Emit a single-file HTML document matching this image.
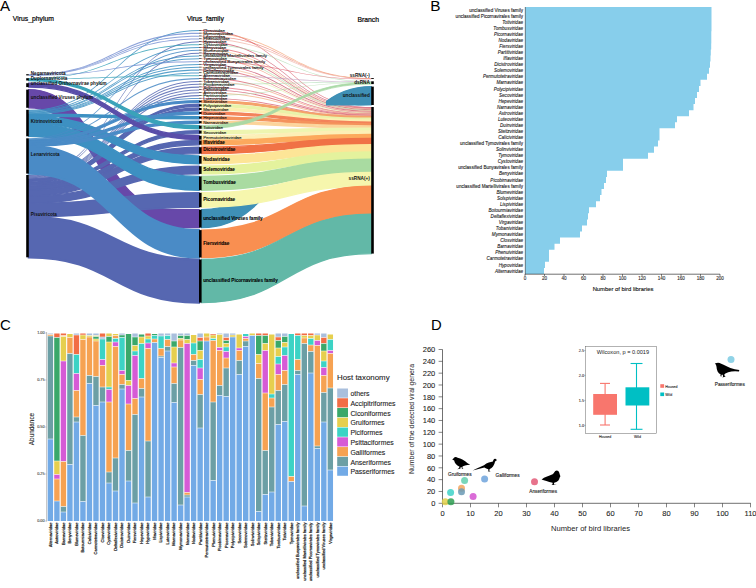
<!DOCTYPE html>
<html><head><meta charset="utf-8"><style>
html,body{margin:0;padding:0;background:#fff;width:756px;height:588px;overflow:hidden;}
svg{display:block;font-family:"Liberation Sans",sans-serif;}
</style></head><body>
<svg width="756" height="588" viewBox="0 0 756 588">
<rect width="756" height="588" fill="#fff"/>
<g id="panelA">
<clipPath id="clipU"><rect x="0" y="200" width="264" height="100"/><rect x="326" y="0" width="100" height="105.6"/></clipPath>
<path d="M201.6 30 C286.4 30 286.4 107 371.2 107 L371.2 107.87 C286.4 107.87 286.4 30.9 201.6 30.9 Z" fill="#d8485a" fill-opacity="0.68"/>
<path d="M201.6 32.83 C286.4 32.83 286.4 78.1 371.2 78.1 L371.2 78.62 C286.4 78.62 286.4 33.73 201.6 33.73 Z" fill="#f4a070" fill-opacity="0.68"/>
<path d="M201.6 35.66 C286.4 35.66 286.4 78.32 371.2 78.32 L371.2 78.85 C286.4 78.85 286.4 36.56 201.6 36.56 Z" fill="#e86a5a" fill-opacity="0.68"/>
<path d="M201.6 38.49 C286.4 38.49 286.4 78.55 371.2 78.55 L371.2 79.07 C286.4 79.07 286.4 39.39 201.6 39.39 Z" fill="#f0b0a0" fill-opacity="0.68"/>
<path d="M201.6 41.32 C286.4 41.32 286.4 107.57 371.2 107.57 L371.2 108.44 C286.4 108.44 286.4 42.22 201.6 42.22 Z" fill="#c83a55" fill-opacity="0.68"/>
<path d="M201.6 44.15 C286.4 44.15 286.4 81.3 371.2 81.3 L371.2 81.9 C286.4 81.9 286.4 45.05 201.6 45.05 Z" fill="#a8d8a8" fill-opacity="0.68"/>
<path d="M201.6 46.98 C286.4 46.98 286.4 108.14 371.2 108.14 L371.2 109.01 C286.4 109.01 286.4 47.88 201.6 47.88 Z" fill="#e05a60" fill-opacity="0.68"/>
<path d="M201.6 49.81 C286.4 49.81 286.4 108.71 371.2 108.71 L371.2 109.58 C286.4 109.58 286.4 50.71 201.6 50.71 Z" fill="#f8c890" fill-opacity="0.68"/>
<path d="M201.6 52.64 C286.4 52.64 286.4 109.28 371.2 109.28 L371.2 110.15 C286.4 110.15 286.4 53.54 201.6 53.54 Z" fill="#d04858" fill-opacity="0.68"/>
<path d="M201.6 55.47 C286.4 55.47 286.4 109.85 371.2 109.85 L371.2 110.72 C286.4 110.72 286.4 56.37 201.6 56.37 Z" fill="#b8e0b0" fill-opacity="0.68"/>
<path d="M201.6 58.3 C286.4 58.3 286.4 110.42 371.2 110.42 L371.2 111.29 C286.4 111.29 286.4 59.2 201.6 59.2 Z" fill="#f09070" fill-opacity="0.68"/>
<path d="M201.6 61.13 C286.4 61.13 286.4 78.77 371.2 78.77 L371.2 79.3 C286.4 79.3 286.4 62.03 201.6 62.03 Z" fill="#d84c5c" fill-opacity="0.68"/>
<path d="M201.6 63.96 C286.4 63.96 286.4 110.99 371.2 110.99 L371.2 111.86 C286.4 111.86 286.4 64.86 201.6 64.86 Z" fill="#c43a58" fill-opacity="0.68"/>
<path d="M201.6 66.79 C286.4 66.79 286.4 111.56 371.2 111.56 L371.2 112.43 C286.4 112.43 286.4 67.69 201.6 67.69 Z" fill="#f4b890" fill-opacity="0.68"/>
<path d="M201.6 69.62 C286.4 69.62 286.4 112.13 371.2 112.13 L371.2 113 C286.4 113 286.4 70.52 201.6 70.52 Z" fill="#d85060" fill-opacity="0.68"/>
<path d="M201.6 72.45 C286.4 72.45 286.4 112.7 371.2 112.7 L371.2 113.57 C286.4 113.57 286.4 73.35 201.6 73.35 Z" fill="#e8f0b0" fill-opacity="0.68"/>
<path d="M201.6 75.28 C286.4 75.28 286.4 81.6 371.2 81.6 L371.2 82.2 C286.4 82.2 286.4 76.18 201.6 76.18 Z" fill="#c0a0c0" fill-opacity="0.68"/>
<path d="M201.6 78.11 C286.4 78.11 286.4 113.27 371.2 113.27 L371.2 114.15 C286.4 114.15 286.4 79.01 201.6 79.01 Z" fill="#d44a5a" fill-opacity="0.68"/>
<path d="M201.6 80.94 C286.4 80.94 286.4 113.85 371.2 113.85 L371.2 114.72 C286.4 114.72 286.4 81.84 201.6 81.84 Z" fill="#f0a080" fill-opacity="0.68"/>
<path d="M201.6 83.77 C286.4 83.77 286.4 81.9 371.2 81.9 L371.2 82.5 C286.4 82.5 286.4 84.67 201.6 84.67 Z" fill="#a0d4a8" fill-opacity="0.68"/>
<path d="M201.6 86.6 C286.4 86.6 286.4 114.42 371.2 114.42 L371.2 115.29 C286.4 115.29 286.4 87.5 201.6 87.5 Z" fill="#e06070" fill-opacity="0.68"/>
<path d="M201.6 89.43 C286.4 89.43 286.4 114.99 371.2 114.99 L371.2 115.86 C286.4 115.86 286.4 90.33 201.6 90.33 Z" fill="#cc4058" fill-opacity="0.68"/>
<path d="M201.6 92.26 C286.4 92.26 286.4 115.56 371.2 115.56 L371.2 116.43 C286.4 116.43 286.4 93.16 201.6 93.16 Z" fill="#f2a878" fill-opacity="0.68"/>
<path d="M201.6 95.09 C286.4 95.09 286.4 82.2 371.2 82.2 L371.2 82.8 C286.4 82.8 286.4 95.99 201.6 95.99 Z" fill="#b0dca8" fill-opacity="0.68"/>
<path d="M201.6 97.92 C286.4 97.92 286.4 116.13 371.2 116.13 L371.2 117 C286.4 117 286.4 98.82 201.6 98.82 Z" fill="#d44c60" fill-opacity="0.68"/>
<path d="M201.6 209.8 C286.4 209.8 286.4 86.6 371.2 86.6 L371.2 105 C286.4 105 286.4 227.6 201.6 227.6 Z" fill="#3f90b6" stroke="#3f90b6" stroke-width="1.4" clip-path="url(#clipU)"/>
<path d="M201.6 100.6 C286.4 100.6 286.4 116.7 371.2 116.7 L371.2 118.31 C286.4 118.31 286.4 102.3 201.6 102.3 Z" fill="#f5a26a" stroke="#f5a26a" stroke-width="1.4"/>
<path d="M201.6 104.3 C286.4 104.3 286.4 118.31 371.2 118.31 L371.2 120.21 C286.4 120.21 286.4 106.3 201.6 106.3 Z" fill="#e9f2a8" stroke="#e9f2a8" stroke-width="1.4"/>
<path d="M201.6 108 C286.4 108 286.4 120.21 371.2 120.21 L371.2 122.12 C286.4 122.12 286.4 110 201.6 110 Z" fill="#fdeeb0" stroke="#fdeeb0" stroke-width="1.4"/>
<path d="M201.6 112 C286.4 112 286.4 122.12 371.2 122.12 L371.2 124.02 C286.4 124.02 286.4 114 201.6 114 Z" fill="#f3825a" stroke="#f3825a" stroke-width="1.4"/>
<path d="M201.6 116.6 C286.4 116.6 286.4 124.02 371.2 124.02 L371.2 126.01 C286.4 126.01 286.4 118.7 201.6 118.7 Z" fill="#f4925c" stroke="#f4925c" stroke-width="1.4"/>
<path d="M201.6 121.1 C286.4 121.1 286.4 126.01 371.2 126.01 L371.2 128.11 C286.4 128.11 286.4 123.3 201.6 123.3 Z" fill="#fcd49a" stroke="#fcd49a" stroke-width="1.4"/>
<path d="M201.6 125.6 C286.4 125.6 286.4 82.5 371.2 82.5 L371.2 84.1 C286.4 84.1 286.4 128.8 201.6 128.8 Z" fill="#a8d8a4" fill-opacity="0.95" stroke="#a8d8a4" stroke-width="0.7"/>
<path d="M201.6 130.6 C286.4 130.6 286.4 128.11 371.2 128.11 L371.2 130.96 C286.4 130.96 286.4 133.6 201.6 133.6 Z" fill="#eef5b0" stroke="#eef5b0" stroke-width="1.4"/>
<path d="M201.6 135.8 C286.4 135.8 286.4 130.96 371.2 130.96 L371.2 134.57 C286.4 134.57 286.4 139.6 201.6 139.6 Z" fill="#fcefb6" stroke="#fcefb6" stroke-width="1.4"/>
<path d="M201.6 140.5 C286.4 140.5 286.4 134.57 371.2 134.57 L371.2 138.56 C286.4 138.56 286.4 144.7 201.6 144.7 Z" fill="#fca95d" stroke="#fca95d" stroke-width="1.4"/>
<path d="M201.6 147.2 C286.4 147.2 286.4 138.56 371.2 138.56 L371.2 144.65 C286.4 144.65 286.4 153.6 201.6 153.6 Z" fill="#f07246" stroke="#f07246" stroke-width="1.4"/>
<path d="M201.6 156 C286.4 156 286.4 144.65 371.2 144.65 L371.2 151.97 C286.4 151.97 286.4 163.7 201.6 163.7 Z" fill="#fde597" stroke="#fde597" stroke-width="1.4"/>
<path d="M201.6 166.2 C286.4 166.2 286.4 151.97 371.2 151.97 L371.2 159.29 C286.4 159.29 286.4 173.9 201.6 173.9 Z" fill="#e4f29d" stroke="#e4f29d" stroke-width="1.4"/>
<path d="M201.6 176.4 C286.4 176.4 286.4 159.29 371.2 159.29 L371.2 172.41 C286.4 172.41 286.4 190.2 201.6 190.2 Z" fill="#a9dba1" stroke="#a9dba1" stroke-width="1.4"/>
<path d="M201.6 192.8 C286.4 192.8 286.4 172.41 371.2 172.41 L371.2 186.1 C286.4 186.1 286.4 207.2 201.6 207.2 Z" fill="#f6f6ad" stroke="#f6f6ad" stroke-width="1.4"/>
<path d="M201.6 230.1 C286.4 230.1 286.4 186.1 371.2 186.1 L371.2 214.24 C286.4 214.24 286.4 257.5 201.6 257.5 Z" fill="#f98f51" stroke="#f98f51" stroke-width="1.4"/>
<path d="M201.6 259.5 C286.4 259.5 286.4 214.24 371.2 214.24 L371.2 253.6 C286.4 253.6 286.4 302.6 201.6 302.6 Z" fill="#62b8a7" stroke="#62b8a7" stroke-width="1.4"/>
<path d="M28.8 89.6 C100.4 89.6 100.4 209.8 172 209.8 L199 209.8 L199 227.6 L172 227.6 C100.4 227.6 100.4 107.8 28.8 107.8 Z" fill="#6748a9" stroke="#6748a9" stroke-width="1.4"/>
<path d="M28.8 175 C113.9 175 113.9 41.32 199 41.32 L199 42.37 C113.9 42.37 113.9 175.91 28.8 175.91 Z" fill="#5667b1" fill-opacity="0.85"/>
<path d="M28.8 175.56 C113.9 175.56 113.9 52.64 199 52.64 L199 53.69 C113.9 53.69 113.9 176.48 28.8 176.48 Z" fill="#5667b1" fill-opacity="0.85"/>
<path d="M28.8 176.13 C113.9 176.13 113.9 80.94 199 80.94 L199 81.99 C113.9 81.99 113.9 177.04 28.8 177.04 Z" fill="#5667b1" fill-opacity="0.85"/>
<path d="M28.8 176.69 C113.9 176.69 113.9 83.77 199 83.77 L199 84.82 C113.9 84.82 113.9 177.6 28.8 177.6 Z" fill="#5667b1" fill-opacity="0.85"/>
<path d="M28.8 177.25 C113.9 177.25 113.9 86.6 199 86.6 L199 87.65 C113.9 87.65 113.9 178.17 28.8 178.17 Z" fill="#5667b1" fill-opacity="0.85"/>
<path d="M28.8 177.82 C113.9 177.82 113.9 89.43 199 89.43 L199 90.48 C113.9 90.48 113.9 178.73 28.8 178.73 Z" fill="#5667b1" fill-opacity="0.85"/>
<path d="M28.8 178.38 C113.9 178.38 113.9 92.26 199 92.26 L199 93.31 C113.9 93.31 113.9 179.3 28.8 179.3 Z" fill="#5667b1" fill-opacity="0.85"/>
<path d="M28.8 178.95 C113.9 178.95 113.9 95.09 199 95.09 L199 96.14 C113.9 96.14 113.9 179.86 28.8 179.86 Z" fill="#5667b1" fill-opacity="0.85"/>
<path d="M28.8 179.51 C113.9 179.51 113.9 104.3 199 104.3 L199 106.3 C113.9 106.3 113.9 181.39 28.8 181.39 Z" fill="#5667b1" stroke="#5667b1" stroke-width="1.4"/>
<path d="M28.8 181.39 C113.9 181.39 113.9 108 199 108 L199 110 C113.9 110 113.9 183.27 28.8 183.27 Z" fill="#5667b1" stroke="#5667b1" stroke-width="1.4"/>
<path d="M28.8 183.27 C113.9 183.27 113.9 130.6 199 130.6 L199 133.6 C113.9 133.6 113.9 186.09 28.8 186.09 Z" fill="#5667b1" stroke="#5667b1" stroke-width="1.4"/>
<path d="M28.8 186.09 C113.9 186.09 113.9 140.5 199 140.5 L199 144.7 C113.9 144.7 113.9 190.03 28.8 190.03 Z" fill="#5667b1" stroke="#5667b1" stroke-width="1.4"/>
<path d="M28.8 190.03 C113.9 190.03 113.9 147.2 199 147.2 L199 153.6 C113.9 153.6 113.9 196.04 28.8 196.04 Z" fill="#5667b1" stroke="#5667b1" stroke-width="1.4"/>
<path d="M28.8 196.04 C113.9 196.04 113.9 166.2 199 166.2 L199 173.9 C113.9 173.9 113.9 203.28 28.8 203.28 Z" fill="#5667b1" stroke="#5667b1" stroke-width="1.4"/>
<path d="M28.8 203.28 C113.9 203.28 113.9 192.8 199 192.8 L199 207.2 C113.9 207.2 113.9 216.81 28.8 216.81 Z" fill="#5667b1" stroke="#5667b1" stroke-width="1.4"/>
<path d="M28.8 216.81 C113.9 216.81 113.9 259.5 199 259.5 L199 302.6 C113.9 302.6 113.9 257.3 28.8 257.3 Z" fill="#5667b1" stroke="#5667b1" stroke-width="2.2"/>
<path d="M28.8 109.8 C113.9 109.8 113.9 30 199 30 L199 31.05 C113.9 31.05 113.9 110.71 28.8 110.71 Z" fill="#3d90c2" fill-opacity="0.85"/>
<path d="M28.8 110.36 C113.9 110.36 113.9 46.98 199 46.98 L199 48.03 C113.9 48.03 113.9 111.27 28.8 111.27 Z" fill="#3d90c2" fill-opacity="0.85"/>
<path d="M28.8 110.92 C113.9 110.92 113.9 55.47 199 55.47 L199 56.52 C113.9 56.52 113.9 111.83 28.8 111.83 Z" fill="#3d90c2" fill-opacity="0.85"/>
<path d="M28.8 111.48 C113.9 111.48 113.9 58.3 199 58.3 L199 59.35 C113.9 59.35 113.9 112.39 28.8 112.39 Z" fill="#3d90c2" fill-opacity="0.85"/>
<path d="M28.8 112.04 C113.9 112.04 113.9 63.96 199 63.96 L199 65.01 C113.9 65.01 113.9 112.95 28.8 112.95 Z" fill="#3d90c2" fill-opacity="0.85"/>
<path d="M28.8 112.6 C113.9 112.6 113.9 66.79 199 66.79 L199 67.84 C113.9 67.84 113.9 113.51 28.8 113.51 Z" fill="#3d90c2" fill-opacity="0.85"/>
<path d="M28.8 113.16 C113.9 113.16 113.9 69.62 199 69.62 L199 70.67 C113.9 70.67 113.9 114.07 28.8 114.07 Z" fill="#3d90c2" fill-opacity="0.85"/>
<path d="M28.8 113.72 C113.9 113.72 113.9 72.45 199 72.45 L199 73.5 C113.9 73.5 113.9 114.63 28.8 114.63 Z" fill="#3d90c2" fill-opacity="0.85"/>
<path d="M28.8 114.28 C113.9 114.28 113.9 116.6 199 116.6 L199 118.7 C113.9 118.7 113.9 116.24 28.8 116.24 Z" fill="#3d90c2" stroke="#3d90c2" stroke-width="1.4"/>
<path d="M28.8 116.24 C113.9 116.24 113.9 156 199 156 L199 163.7 C113.9 163.7 113.9 123.42 28.8 123.42 Z" fill="#3d90c2" stroke="#3d90c2" stroke-width="1.4"/>
<path d="M28.8 123.42 C113.9 123.42 113.9 176.4 199 176.4 L199 190.2 C113.9 190.2 113.9 136.3 28.8 136.3 Z" fill="#3d90c2" stroke="#3d90c2" stroke-width="1.4"/>
<path d="M28.8 138.3 C113.9 138.3 113.9 49.81 199 49.81 L199 50.86 C113.9 50.86 113.9 139.25 28.8 139.25 Z" fill="#4a8bc6" fill-opacity="0.85"/>
<path d="M28.8 138.9 C113.9 138.9 113.9 78.11 199 78.11 L199 79.16 C113.9 79.16 113.9 139.86 28.8 139.86 Z" fill="#4a8bc6" fill-opacity="0.85"/>
<path d="M28.8 139.51 C113.9 139.51 113.9 97.92 199 97.92 L199 98.97 C113.9 98.97 113.9 140.46 28.8 140.46 Z" fill="#4a8bc6" fill-opacity="0.85"/>
<path d="M28.8 140.11 C113.9 140.11 113.9 100.6 199 100.6 L199 102.3 C113.9 102.3 113.9 141.82 28.8 141.82 Z" fill="#4a8bc6" stroke="#4a8bc6" stroke-width="1.4"/>
<path d="M28.8 141.82 C113.9 141.82 113.9 112 199 112 L199 114 C113.9 114 113.9 143.83 28.8 143.83 Z" fill="#4a8bc6" stroke="#4a8bc6" stroke-width="1.4"/>
<path d="M28.8 143.83 C113.9 143.83 113.9 121.1 199 121.1 L199 123.3 C113.9 123.3 113.9 146.04 28.8 146.04 Z" fill="#4a8bc6" stroke="#4a8bc6" stroke-width="1.4"/>
<path d="M28.8 146.04 C113.9 146.04 113.9 230.1 199 230.1 L199 257.5 C113.9 257.5 113.9 173.6 28.8 173.6 Z" fill="#4a8bc6" stroke="#4a8bc6" stroke-width="2.2"/>
<path d="M28.8 78.2 C113.9 78.2 113.9 44.15 199 44.15 L199 45.2 C113.9 45.2 113.9 78.86 28.8 78.86 Z" fill="#3aa3b9" fill-opacity="0.85"/>
<path d="M28.8 78.51 C113.9 78.51 113.9 75.28 199 75.28 L199 76.33 C113.9 76.33 113.9 79.18 28.8 79.18 Z" fill="#3aa3b9" fill-opacity="0.85"/>
<path d="M28.8 78.83 C113.9 78.83 113.9 125.6 199 125.6 L199 128.8 C113.9 128.8 113.9 80.5 28.8 80.5 Z" fill="#3aa3b9" stroke="#3aa3b9" stroke-width="1.4"/>
<path d="M28.8 83.2 C113.9 83.2 113.9 135.8 199 135.8 L199 139.6 C113.9 139.6 113.9 87.1 28.8 87.1 Z" fill="#5a4ea9" stroke="#5a4ea9" stroke-width="1.4"/>
<path d="M28.8 74.2 C113.9 74.2 113.9 32.83 199 32.83 L199 33.88 C113.9 33.88 113.9 74.85 28.8 74.85 Z" fill="#7a93d3" fill-opacity="0.85"/>
<path d="M28.8 74.5 C113.9 74.5 113.9 35.66 199 35.66 L199 36.71 C113.9 36.71 113.9 75.15 28.8 75.15 Z" fill="#7a93d3" fill-opacity="0.85"/>
<path d="M28.8 74.8 C113.9 74.8 113.9 38.49 199 38.49 L199 39.54 C113.9 39.54 113.9 75.45 28.8 75.45 Z" fill="#7a93d3" fill-opacity="0.85"/>
<path d="M28.8 75.1 C113.9 75.1 113.9 61.13 199 61.13 L199 62.18 C113.9 62.18 113.9 75.75 28.8 75.75 Z" fill="#7a93d3" fill-opacity="0.85"/>
<rect x="26.2" y="74.2" width="2.6" height="1.2" fill="#000"/>
<rect x="26.2" y="78.2" width="2.6" height="2.3" fill="#000"/>
<rect x="26.2" y="83.2" width="2.6" height="3.9" fill="#000"/>
<rect x="26.2" y="89.6" width="2.6" height="18.2" fill="#000"/>
<rect x="26.2" y="109.8" width="2.6" height="26.5" fill="#000"/>
<rect x="26.2" y="138.3" width="2.6" height="35.3" fill="#000"/>
<rect x="26.2" y="175" width="2.6" height="82.3" fill="#000"/>
<rect x="199" y="30" width="2.6" height="0.6" fill="#000"/>
<rect x="199" y="32.83" width="2.6" height="0.6" fill="#000"/>
<rect x="199" y="35.66" width="2.6" height="0.6" fill="#000"/>
<rect x="199" y="38.49" width="2.6" height="0.6" fill="#000"/>
<rect x="199" y="41.32" width="2.6" height="0.6" fill="#000"/>
<rect x="199" y="44.15" width="2.6" height="0.6" fill="#000"/>
<rect x="199" y="46.98" width="2.6" height="0.6" fill="#000"/>
<rect x="199" y="49.81" width="2.6" height="0.6" fill="#000"/>
<rect x="199" y="52.64" width="2.6" height="0.6" fill="#000"/>
<rect x="199" y="55.47" width="2.6" height="0.6" fill="#000"/>
<rect x="199" y="58.3" width="2.6" height="0.6" fill="#000"/>
<rect x="199" y="61.13" width="2.6" height="0.6" fill="#000"/>
<rect x="199" y="63.96" width="2.6" height="0.6" fill="#000"/>
<rect x="199" y="66.79" width="2.6" height="0.6" fill="#000"/>
<rect x="199" y="69.62" width="2.6" height="0.6" fill="#000"/>
<rect x="199" y="72.45" width="2.6" height="0.6" fill="#000"/>
<rect x="199" y="75.28" width="2.6" height="0.6" fill="#000"/>
<rect x="199" y="78.11" width="2.6" height="0.6" fill="#000"/>
<rect x="199" y="80.94" width="2.6" height="0.6" fill="#000"/>
<rect x="199" y="83.77" width="2.6" height="0.6" fill="#000"/>
<rect x="199" y="86.6" width="2.6" height="0.6" fill="#000"/>
<rect x="199" y="89.43" width="2.6" height="0.6" fill="#000"/>
<rect x="199" y="92.26" width="2.6" height="0.6" fill="#000"/>
<rect x="199" y="95.09" width="2.6" height="0.6" fill="#000"/>
<rect x="199" y="97.92" width="2.6" height="0.6" fill="#000"/>
<rect x="199" y="100.6" width="2.6" height="1.7" fill="#000"/>
<rect x="199" y="104.3" width="2.6" height="2" fill="#000"/>
<rect x="199" y="108" width="2.6" height="2" fill="#000"/>
<rect x="199" y="112" width="2.6" height="2" fill="#000"/>
<rect x="199" y="116.6" width="2.6" height="2.1" fill="#000"/>
<rect x="199" y="121.1" width="2.6" height="2.2" fill="#000"/>
<rect x="199" y="125.6" width="2.6" height="3.2" fill="#000"/>
<rect x="199" y="130.6" width="2.6" height="3" fill="#000"/>
<rect x="199" y="135.8" width="2.6" height="3.8" fill="#000"/>
<rect x="199" y="140.5" width="2.6" height="4.2" fill="#000"/>
<rect x="199" y="147.2" width="2.6" height="6.4" fill="#000"/>
<rect x="199" y="156" width="2.6" height="7.7" fill="#000"/>
<rect x="199" y="166.2" width="2.6" height="7.7" fill="#000"/>
<rect x="199" y="176.4" width="2.6" height="13.8" fill="#000"/>
<rect x="199" y="192.8" width="2.6" height="14.4" fill="#000"/>
<rect x="199" y="209.8" width="2.6" height="17.8" fill="#000"/>
<rect x="199" y="230.1" width="2.6" height="27.4" fill="#000"/>
<rect x="199" y="259.5" width="2.6" height="43.1" fill="#000"/>
<rect x="371.2" y="78.1" width="2.6" height="0.9" fill="#000"/>
<rect x="371.2" y="81.3" width="2.6" height="2.8" fill="#000"/>
<rect x="371.2" y="86.6" width="2.6" height="18.4" fill="#000"/>
<rect x="371.2" y="107" width="2.6" height="146.6" fill="#000"/>
<text x="30.8" y="75" font-size="4.6" text-anchor="start" fill="#111" font-weight="bold">Negarnaviricota</text>
<text x="30.8" y="79.55" font-size="4.6" text-anchor="start" fill="#111" font-weight="bold">Duplornaviricota</text>
<text x="30.8" y="85.35" font-size="4.6" text-anchor="start" fill="#111" font-weight="bold">unclassified Orthornavirae phylum</text>
<text x="30.8" y="98.9" font-size="4.6" text-anchor="start" fill="#111" font-weight="bold">unclassified Viruses phylum</text>
<text x="30.8" y="123.25" font-size="4.6" text-anchor="start" fill="#111" font-weight="bold">Kitrinoviricota</text>
<text x="30.8" y="156.15" font-size="4.6" text-anchor="start" fill="#111" font-weight="bold">Lenarviricota</text>
<text x="30.8" y="216.35" font-size="4.6" text-anchor="start" fill="#111" font-weight="bold">Pisuviricota</text>
<text x="203.2" y="31.9" font-size="4.4" text-anchor="start" fill="#1a1a1a" stroke="#1a1a1a" stroke-width="0.12">Closviridae</text>
<text x="203.2" y="34.73" font-size="4.4" text-anchor="start" fill="#1a1a1a" stroke="#1a1a1a" stroke-width="0.12">Mymonaviridae</text>
<text x="203.2" y="37.56" font-size="4.4" text-anchor="start" fill="#1a1a1a" stroke="#1a1a1a" stroke-width="0.12">Lispiviridae</text>
<text x="203.2" y="40.39" font-size="4.4" text-anchor="start" fill="#1a1a1a" stroke="#1a1a1a" stroke-width="0.12">Phenuiviridae</text>
<text x="203.2" y="43.22" font-size="4.4" text-anchor="start" fill="#1a1a1a" stroke="#1a1a1a" stroke-width="0.12">Hypoviridae</text>
<text x="203.2" y="46.05" font-size="4.4" text-anchor="start" fill="#1a1a1a" stroke="#1a1a1a" stroke-width="0.12">Cystoviridae</text>
<text x="203.2" y="48.88" font-size="4.4" text-anchor="start" fill="#1a1a1a" stroke="#1a1a1a" stroke-width="0.12">Benyviridae</text>
<text x="203.2" y="51.71" font-size="4.4" text-anchor="start" fill="#1a1a1a" stroke="#1a1a1a" stroke-width="0.12">Blumeviridae</text>
<text x="203.2" y="54.54" font-size="4.4" text-anchor="start" fill="#1a1a1a" stroke="#1a1a1a" stroke-width="0.12">Barnaviridae</text>
<text x="203.2" y="57.37" font-size="4.4" text-anchor="start" fill="#1a1a1a" stroke="#1a1a1a" stroke-width="0.12">unclassified Martellivirales family</text>
<text x="203.2" y="60.2" font-size="4.4" text-anchor="start" fill="#1a1a1a" stroke="#1a1a1a" stroke-width="0.12">Tymoviridae</text>
<text x="203.2" y="63.03" font-size="4.4" text-anchor="start" fill="#1a1a1a" stroke="#1a1a1a" stroke-width="0.12">unclassified Bunyavirales family</text>
<text x="203.2" y="65.86" font-size="4.4" text-anchor="start" fill="#1a1a1a" stroke="#1a1a1a" stroke-width="0.12">Virgaviridae</text>
<text x="203.2" y="68.69" font-size="4.4" text-anchor="start" fill="#1a1a1a" stroke="#1a1a1a" stroke-width="0.12">unclassified Tymovirales family</text>
<text x="203.2" y="71.52" font-size="4.4" text-anchor="start" fill="#1a1a1a" stroke="#1a1a1a" stroke-width="0.12">Deltaflexiviridae</text>
<text x="203.2" y="74.35" font-size="4.4" text-anchor="start" fill="#1a1a1a" stroke="#1a1a1a" stroke-width="0.12">Carmotetraviridae</text>
<text x="203.2" y="77.18" font-size="4.4" text-anchor="start" fill="#1a1a1a" stroke="#1a1a1a" stroke-width="0.12">Alternaviridae</text>
<text x="203.2" y="80.01" font-size="4.4" text-anchor="start" fill="#1a1a1a" stroke="#1a1a1a" stroke-width="0.12">Botourmiaviridae</text>
<text x="203.2" y="82.84" font-size="4.4" text-anchor="start" fill="#1a1a1a" stroke="#1a1a1a" stroke-width="0.12">Tobaniviridae</text>
<text x="203.2" y="85.67" font-size="4.4" text-anchor="start" fill="#1a1a1a" stroke="#1a1a1a" stroke-width="0.12">Picobirnaviridae</text>
<text x="203.2" y="88.5" font-size="4.4" text-anchor="start" fill="#1a1a1a" stroke="#1a1a1a" stroke-width="0.12">Solinviviridae</text>
<text x="203.2" y="91.33" font-size="4.4" text-anchor="start" fill="#1a1a1a" stroke="#1a1a1a" stroke-width="0.12">Caliciviridae</text>
<text x="203.2" y="94.16" font-size="4.4" text-anchor="start" fill="#1a1a1a" stroke="#1a1a1a" stroke-width="0.12">Astroviridae</text>
<text x="203.2" y="96.99" font-size="4.4" text-anchor="start" fill="#1a1a1a" stroke="#1a1a1a" stroke-width="0.12">Partitiviridae</text>
<text x="203.2" y="99.82" font-size="4.4" text-anchor="start" fill="#1a1a1a" stroke="#1a1a1a" stroke-width="0.12">Luteoviridae</text>
<text x="203.2" y="103.05" font-size="4.4" text-anchor="start" fill="#1a1a1a" stroke="#1a1a1a" stroke-width="0.12">Steitzviridae</text>
<text x="203.2" y="106.9" font-size="4.4" text-anchor="start" fill="#1a1a1a" stroke="#1a1a1a" stroke-width="0.12">Polycipiviridae</text>
<text x="203.2" y="110.6" font-size="4.4" text-anchor="start" fill="#1a1a1a" stroke="#1a1a1a" stroke-width="0.12">Marnaviridae</text>
<text x="203.2" y="114.6" font-size="4.4" text-anchor="start" fill="#1a1a1a" stroke="#1a1a1a" stroke-width="0.12">Duinviridae</text>
<text x="203.2" y="119.25" font-size="4.4" text-anchor="start" fill="#1a1a1a" stroke="#1a1a1a" stroke-width="0.12">Hepeviridae</text>
<text x="203.2" y="123.8" font-size="4.4" text-anchor="start" fill="#1a1a1a" stroke="#1a1a1a" stroke-width="0.12">Narnaviridae</text>
<text x="203.2" y="128.8" font-size="4.4" text-anchor="start" fill="#1a1a1a" stroke="#1a1a1a" stroke-width="0.12">Totiviridae</text>
<text x="203.2" y="133.7" font-size="4.4" text-anchor="start" fill="#1a1a1a" stroke="#1a1a1a" stroke-width="0.12">Secoviridae</text>
<text x="203.2" y="139.3" font-size="4.4" text-anchor="start" fill="#1a1a1a" stroke="#1a1a1a" stroke-width="0.12">Permutotetraviridae</text>
<text x="203.2" y="143.5" font-size="4.65" text-anchor="start" fill="#000" font-weight="bold" stroke="#000" stroke-width="0.1">Iflaviridae</text>
<text x="203.2" y="151.3" font-size="4.65" text-anchor="start" fill="#000" font-weight="bold" stroke="#000" stroke-width="0.1">Dicistroviridae</text>
<text x="203.2" y="160.75" font-size="4.65" text-anchor="start" fill="#000" font-weight="bold" stroke="#000" stroke-width="0.1">Nodaviridae</text>
<text x="203.2" y="170.95" font-size="4.65" text-anchor="start" fill="#000" font-weight="bold" stroke="#000" stroke-width="0.1">Solemoviridae</text>
<text x="203.2" y="184.2" font-size="4.65" text-anchor="start" fill="#000" font-weight="bold" stroke="#000" stroke-width="0.1">Tombusviridae</text>
<text x="203.2" y="200.9" font-size="4.65" text-anchor="start" fill="#000" font-weight="bold" stroke="#000" stroke-width="0.1">Picornaviridae</text>
<text x="203.2" y="219.6" font-size="4.65" text-anchor="start" fill="#000" font-weight="bold" stroke="#000" stroke-width="0.1">unclassified Viruses family</text>
<text x="203.2" y="244.7" font-size="4.65" text-anchor="start" fill="#000" font-weight="bold" stroke="#000" stroke-width="0.1">Fiersviridae</text>
<text x="203.2" y="281.95" font-size="4.65" text-anchor="start" fill="#000" font-weight="bold" stroke="#000" stroke-width="0.1">unclassified Picornavirales family</text>
<text x="369.8" y="76.9" font-size="4.7" text-anchor="end" fill="#111" font-weight="bold">ssRNA(-)</text>
<text x="369.8" y="84.1" font-size="4.7" text-anchor="end" fill="#111" font-weight="bold">dsRNA</text>
<text x="369.8" y="96.8" font-size="4.7" text-anchor="end" fill="#111" font-weight="bold">unclassified</text>
<text x="369.8" y="180.3" font-size="4.7" text-anchor="end" fill="#111" font-weight="bold">ssRNA(+)</text>
</g>
<text x="0" y="10.8" font-size="15.2" text-anchor="start" fill="#000">A</text>
<text x="12.8" y="20.8" font-size="6.8" text-anchor="start" fill="#000" stroke="#000" stroke-width="0.2">Virus_phylum</text>
<text x="186.9" y="21.2" font-size="6.8" text-anchor="start" fill="#000" stroke="#000" stroke-width="0.2">Virus_family</text>
<text x="357.4" y="21.9" font-size="6.8" text-anchor="start" fill="#000" stroke="#000" stroke-width="0.2">Branch</text>
<polygon points="525,7 711.5,7 711.5,13.07 711.5,13.07 711.5,19.14 711.5,19.14 711.5,25.2 711.5,25.2 711.5,31.27 711.3,31.27 711.3,37.34 711.3,37.34 711.3,43.41 711.2,43.41 711.2,49.48 710.8,49.48 710.8,55.55 710.5,55.55 710.5,61.61 710,61.61 710,67.68 709,67.68 709,73.75 707,73.75 707,79.82 700.5,79.82 700.5,85.89 699,85.89 699,91.95 697,91.95 697,98.02 695,98.02 695,104.09 693.5,104.09 693.5,110.16 689,110.16 689,116.23 677,116.23 677,122.3 675,122.3 675,128.36 659.5,128.36 659.5,134.43 659.5,134.43 659.5,140.5 658,140.5 658,146.57 654,146.57 654,152.64 648,152.64 648,158.7 623,158.7 623,164.77 623,164.77 623,170.84 607,170.84 607,176.91 606,176.91 606,182.98 604,182.98 604,189.05 601.5,189.05 601.5,195.11 600,195.11 600,201.18 596,201.18 596,207.25 589,207.25 589,213.32 588,213.32 588,219.39 587,219.39 587,225.45 582,225.45 582,231.52 580,231.52 580,237.59 560,237.59 560,243.66 554.5,243.66 554.5,249.73 549,249.73 549,255.8 549,255.8 549,261.86 545,261.86 545,267.93 544,267.93 544,274 525,274" fill="#87ceeb"/>
<line x1="525.3" y1="7" x2="525.3" y2="274.3" stroke="#555" stroke-width="0.7"/>
<line x1="525" y1="274.2" x2="720" y2="274.2" stroke="#333" stroke-width="0.7"/>
<line x1="525" y1="274" x2="525" y2="276" stroke="#333" stroke-width="0.6"/>
<text x="525" y="280.3" font-size="4.6" text-anchor="middle" fill="#333" stroke="#333" stroke-width="0.12">0</text>
<line x1="544.5" y1="274" x2="544.5" y2="276" stroke="#333" stroke-width="0.6"/>
<text x="544.5" y="280.3" font-size="4.6" text-anchor="middle" fill="#333" stroke="#333" stroke-width="0.12">20</text>
<line x1="564" y1="274" x2="564" y2="276" stroke="#333" stroke-width="0.6"/>
<text x="564" y="280.3" font-size="4.6" text-anchor="middle" fill="#333" stroke="#333" stroke-width="0.12">40</text>
<line x1="583.5" y1="274" x2="583.5" y2="276" stroke="#333" stroke-width="0.6"/>
<text x="583.5" y="280.3" font-size="4.6" text-anchor="middle" fill="#333" stroke="#333" stroke-width="0.12">60</text>
<line x1="603" y1="274" x2="603" y2="276" stroke="#333" stroke-width="0.6"/>
<text x="603" y="280.3" font-size="4.6" text-anchor="middle" fill="#333" stroke="#333" stroke-width="0.12">80</text>
<line x1="622.5" y1="274" x2="622.5" y2="276" stroke="#333" stroke-width="0.6"/>
<text x="622.5" y="280.3" font-size="4.6" text-anchor="middle" fill="#333" stroke="#333" stroke-width="0.12">100</text>
<line x1="642" y1="274" x2="642" y2="276" stroke="#333" stroke-width="0.6"/>
<text x="642" y="280.3" font-size="4.6" text-anchor="middle" fill="#333" stroke="#333" stroke-width="0.12">120</text>
<line x1="661.5" y1="274" x2="661.5" y2="276" stroke="#333" stroke-width="0.6"/>
<text x="661.5" y="280.3" font-size="4.6" text-anchor="middle" fill="#333" stroke="#333" stroke-width="0.12">140</text>
<line x1="681" y1="274" x2="681" y2="276" stroke="#333" stroke-width="0.6"/>
<text x="681" y="280.3" font-size="4.6" text-anchor="middle" fill="#333" stroke="#333" stroke-width="0.12">160</text>
<line x1="700.5" y1="274" x2="700.5" y2="276" stroke="#333" stroke-width="0.6"/>
<text x="700.5" y="280.3" font-size="4.6" text-anchor="middle" fill="#333" stroke="#333" stroke-width="0.12">180</text>
<line x1="720" y1="274" x2="720" y2="276" stroke="#333" stroke-width="0.6"/>
<text x="720" y="280.3" font-size="4.6" text-anchor="middle" fill="#333" stroke="#333" stroke-width="0.12">200</text>
<text x="523" y="11.63" font-size="4.6" text-anchor="end" fill="#222" stroke="#222" stroke-width="0.1">unclassified Viruses family</text>
<text x="523" y="17.7" font-size="4.6" text-anchor="end" fill="#222" stroke="#222" stroke-width="0.1">unclassified Picornavirales family</text>
<text x="523" y="23.77" font-size="4.6" text-anchor="end" fill="#222" font-style="italic" stroke="#222" stroke-width="0.1">Totiviridae</text>
<text x="523" y="29.84" font-size="4.6" text-anchor="end" fill="#222" font-style="italic" stroke="#222" stroke-width="0.1">Tombusviridae</text>
<text x="523" y="35.91" font-size="4.6" text-anchor="end" fill="#222" font-style="italic" stroke="#222" stroke-width="0.1">Picornaviridae</text>
<text x="523" y="41.98" font-size="4.6" text-anchor="end" fill="#222" font-style="italic" stroke="#222" stroke-width="0.1">Nodaviridae</text>
<text x="523" y="48.04" font-size="4.6" text-anchor="end" fill="#222" font-style="italic" stroke="#222" stroke-width="0.1">Fiersviridae</text>
<text x="523" y="54.11" font-size="4.6" text-anchor="end" fill="#222" font-style="italic" stroke="#222" stroke-width="0.1">Partitiviridae</text>
<text x="523" y="60.18" font-size="4.6" text-anchor="end" fill="#222" font-style="italic" stroke="#222" stroke-width="0.1">Iflaviridae</text>
<text x="523" y="66.25" font-size="4.6" text-anchor="end" fill="#222" font-style="italic" stroke="#222" stroke-width="0.1">Dicistroviridae</text>
<text x="523" y="72.32" font-size="4.6" text-anchor="end" fill="#222" font-style="italic" stroke="#222" stroke-width="0.1">Solemoviridae</text>
<text x="523" y="78.38" font-size="4.6" text-anchor="end" fill="#222" font-style="italic" stroke="#222" stroke-width="0.1">Permutotetraviridae</text>
<text x="523" y="84.45" font-size="4.6" text-anchor="end" fill="#222" font-style="italic" stroke="#222" stroke-width="0.1">Marnaviridae</text>
<text x="523" y="90.52" font-size="4.6" text-anchor="end" fill="#222" font-style="italic" stroke="#222" stroke-width="0.1">Polycipiviridae</text>
<text x="523" y="96.59" font-size="4.6" text-anchor="end" fill="#222" font-style="italic" stroke="#222" stroke-width="0.1">Secoviridae</text>
<text x="523" y="102.66" font-size="4.6" text-anchor="end" fill="#222" font-style="italic" stroke="#222" stroke-width="0.1">Hepeviridae</text>
<text x="523" y="108.72" font-size="4.6" text-anchor="end" fill="#222" font-style="italic" stroke="#222" stroke-width="0.1">Narnaviridae</text>
<text x="523" y="114.79" font-size="4.6" text-anchor="end" fill="#222" font-style="italic" stroke="#222" stroke-width="0.1">Astroviridae</text>
<text x="523" y="120.86" font-size="4.6" text-anchor="end" fill="#222" font-style="italic" stroke="#222" stroke-width="0.1">Luteoviridae</text>
<text x="523" y="126.93" font-size="4.6" text-anchor="end" fill="#222" font-style="italic" stroke="#222" stroke-width="0.1">Duinviridae</text>
<text x="523" y="133" font-size="4.6" text-anchor="end" fill="#222" font-style="italic" stroke="#222" stroke-width="0.1">Steitzviridae</text>
<text x="523" y="139.07" font-size="4.6" text-anchor="end" fill="#222" font-style="italic" stroke="#222" stroke-width="0.1">Caliciviridae</text>
<text x="523" y="145.13" font-size="4.6" text-anchor="end" fill="#222" stroke="#222" stroke-width="0.1">unclassified Tymovirales family</text>
<text x="523" y="151.2" font-size="4.6" text-anchor="end" fill="#222" font-style="italic" stroke="#222" stroke-width="0.1">Solinviviridae</text>
<text x="523" y="157.27" font-size="4.6" text-anchor="end" fill="#222" font-style="italic" stroke="#222" stroke-width="0.1">Tymoviridae</text>
<text x="523" y="163.34" font-size="4.6" text-anchor="end" fill="#222" font-style="italic" stroke="#222" stroke-width="0.1">Cystoviridae</text>
<text x="523" y="169.41" font-size="4.6" text-anchor="end" fill="#222" stroke="#222" stroke-width="0.1">unclassified Bunyavirales family</text>
<text x="523" y="175.47" font-size="4.6" text-anchor="end" fill="#222" font-style="italic" stroke="#222" stroke-width="0.1">Benyviridae</text>
<text x="523" y="181.54" font-size="4.6" text-anchor="end" fill="#222" font-style="italic" stroke="#222" stroke-width="0.1">Picobirnaviridae</text>
<text x="523" y="187.61" font-size="4.6" text-anchor="end" fill="#222" stroke="#222" stroke-width="0.1">unclassified Martellivirales family</text>
<text x="523" y="193.68" font-size="4.6" text-anchor="end" fill="#222" font-style="italic" stroke="#222" stroke-width="0.1">Blumeviridae</text>
<text x="523" y="199.75" font-size="4.6" text-anchor="end" fill="#222" font-style="italic" stroke="#222" stroke-width="0.1">Solspiviridae</text>
<text x="523" y="205.82" font-size="4.6" text-anchor="end" fill="#222" font-style="italic" stroke="#222" stroke-width="0.1">Lispiviridae</text>
<text x="523" y="211.88" font-size="4.6" text-anchor="end" fill="#222" font-style="italic" stroke="#222" stroke-width="0.1">Botourmiaviridae</text>
<text x="523" y="217.95" font-size="4.6" text-anchor="end" fill="#222" font-style="italic" stroke="#222" stroke-width="0.1">Deltaflexiviridae</text>
<text x="523" y="224.02" font-size="4.6" text-anchor="end" fill="#222" font-style="italic" stroke="#222" stroke-width="0.1">Virgaviridae</text>
<text x="523" y="230.09" font-size="4.6" text-anchor="end" fill="#222" font-style="italic" stroke="#222" stroke-width="0.1">Tobaniviridae</text>
<text x="523" y="236.16" font-size="4.6" text-anchor="end" fill="#222" font-style="italic" stroke="#222" stroke-width="0.1">Mymonaviridae</text>
<text x="523" y="242.22" font-size="4.6" text-anchor="end" fill="#222" font-style="italic" stroke="#222" stroke-width="0.1">Closviridae</text>
<text x="523" y="248.29" font-size="4.6" text-anchor="end" fill="#222" font-style="italic" stroke="#222" stroke-width="0.1">Barnaviridae</text>
<text x="523" y="254.36" font-size="4.6" text-anchor="end" fill="#222" font-style="italic" stroke="#222" stroke-width="0.1">Phenuiviridae</text>
<text x="523" y="260.43" font-size="4.6" text-anchor="end" fill="#222" font-style="italic" stroke="#222" stroke-width="0.1">Carmotetraviridae</text>
<text x="523" y="266.5" font-size="4.6" text-anchor="end" fill="#222" font-style="italic" stroke="#222" stroke-width="0.1">Hypoviridae</text>
<text x="523" y="272.57" font-size="4.6" text-anchor="end" fill="#222" font-style="italic" stroke="#222" stroke-width="0.1">Alternaviridae</text>
<text x="623" y="290.6" font-size="5.85" text-anchor="middle" fill="#111" stroke="#111" stroke-width="0.12">Number of bird libraries</text>
<text x="430.3" y="10.6" font-size="15.4" text-anchor="start" fill="#000">B</text>
<rect x="47.7" y="333.5" width="5.4" height="1" fill="#a9bfdd"/>
<rect x="47.7" y="334.5" width="5.4" height="1.5" fill="#f6a252"/>
<rect x="47.7" y="334.2" width="5.4" height="0.6" fill="#fff" fill-opacity="0.85"/>
<rect x="47.7" y="336" width="5.4" height="103" fill="#6c9fa5"/>
<rect x="47.7" y="335.7" width="5.4" height="0.6" fill="#fff" fill-opacity="0.85"/>
<rect x="47.7" y="439" width="5.4" height="82" fill="#72aae6"/>
<rect x="47.7" y="438.7" width="5.4" height="0.6" fill="#fff" fill-opacity="0.85"/>
<text x="51.8" y="522.6" font-size="4" text-anchor="end" fill="#333" transform="rotate(-90 51.8 522.6)" stroke="#333" stroke-width="0.25">Alternaviridae</text>
<rect x="54.21" y="333.5" width="5.4" height="4" fill="#f26d45"/>
<rect x="54.21" y="337.5" width="5.4" height="123.5" fill="#3aa86a"/>
<rect x="54.21" y="337.2" width="5.4" height="0.6" fill="#fff" fill-opacity="0.85"/>
<rect x="54.21" y="461" width="5.4" height="13.5" fill="#e6cf4e"/>
<rect x="54.21" y="460.7" width="5.4" height="0.6" fill="#fff" fill-opacity="0.85"/>
<rect x="54.21" y="474.5" width="5.4" height="4.5" fill="#d65bd6"/>
<rect x="54.21" y="474.2" width="5.4" height="0.6" fill="#fff" fill-opacity="0.85"/>
<rect x="54.21" y="479" width="5.4" height="22" fill="#f6a252"/>
<rect x="54.21" y="478.7" width="5.4" height="0.6" fill="#fff" fill-opacity="0.85"/>
<rect x="54.21" y="501" width="5.4" height="20" fill="#72aae6"/>
<rect x="54.21" y="500.7" width="5.4" height="0.6" fill="#fff" fill-opacity="0.85"/>
<text x="58.31" y="522.6" font-size="4" text-anchor="end" fill="#333" transform="rotate(-90 58.31 522.6)" stroke="#333" stroke-width="0.25">Astroviridae</text>
<rect x="60.72" y="333.5" width="5.4" height="2" fill="#f26d45"/>
<rect x="60.72" y="335.5" width="5.4" height="1" fill="#f6a252"/>
<rect x="60.72" y="335.2" width="5.4" height="0.6" fill="#fff" fill-opacity="0.85"/>
<rect x="60.72" y="336.5" width="5.4" height="24.5" fill="#e6cf4e"/>
<rect x="60.72" y="336.2" width="5.4" height="0.6" fill="#fff" fill-opacity="0.85"/>
<rect x="60.72" y="361" width="5.4" height="100.5" fill="#d65bd6"/>
<rect x="60.72" y="360.7" width="5.4" height="0.6" fill="#fff" fill-opacity="0.85"/>
<rect x="60.72" y="461.5" width="5.4" height="45" fill="#f6a252"/>
<rect x="60.72" y="461.2" width="5.4" height="0.6" fill="#fff" fill-opacity="0.85"/>
<rect x="60.72" y="506.5" width="5.4" height="5.5" fill="#6c9fa5"/>
<rect x="60.72" y="506.2" width="5.4" height="0.6" fill="#fff" fill-opacity="0.85"/>
<rect x="60.72" y="512" width="5.4" height="9" fill="#72aae6"/>
<rect x="60.72" y="511.7" width="5.4" height="0.6" fill="#fff" fill-opacity="0.85"/>
<text x="64.82" y="522.6" font-size="4" text-anchor="end" fill="#333" transform="rotate(-90 64.82 522.6)" stroke="#333" stroke-width="0.25">Barnaviridae</text>
<rect x="67.23" y="334" width="5.4" height="3.5" fill="#e6cf4e"/>
<rect x="67.23" y="337.5" width="5.4" height="16" fill="#f6a252"/>
<rect x="67.23" y="337.2" width="5.4" height="0.6" fill="#fff" fill-opacity="0.85"/>
<rect x="67.23" y="353.5" width="5.4" height="111" fill="#6c9fa5"/>
<rect x="67.23" y="353.2" width="5.4" height="0.6" fill="#fff" fill-opacity="0.85"/>
<rect x="67.23" y="464.5" width="5.4" height="56.5" fill="#72aae6"/>
<rect x="67.23" y="464.2" width="5.4" height="0.6" fill="#fff" fill-opacity="0.85"/>
<text x="71.33" y="522.6" font-size="4" text-anchor="end" fill="#333" transform="rotate(-90 71.33 522.6)" stroke="#333" stroke-width="0.25">Benyviridae</text>
<rect x="73.74" y="333.5" width="5.4" height="1.5" fill="#a9bfdd"/>
<rect x="73.74" y="335" width="5.4" height="19.5" fill="#f26d45"/>
<rect x="73.74" y="334.7" width="5.4" height="0.6" fill="#fff" fill-opacity="0.85"/>
<rect x="73.74" y="354.5" width="5.4" height="19" fill="#3cd3c5"/>
<rect x="73.74" y="354.2" width="5.4" height="0.6" fill="#fff" fill-opacity="0.85"/>
<rect x="73.74" y="373.5" width="5.4" height="17" fill="#d65bd6"/>
<rect x="73.74" y="373.2" width="5.4" height="0.6" fill="#fff" fill-opacity="0.85"/>
<rect x="73.74" y="390.5" width="5.4" height="26.5" fill="#f6a252"/>
<rect x="73.74" y="390.2" width="5.4" height="0.6" fill="#fff" fill-opacity="0.85"/>
<rect x="73.74" y="417" width="5.4" height="5" fill="#6c9fa5"/>
<rect x="73.74" y="416.7" width="5.4" height="0.6" fill="#fff" fill-opacity="0.85"/>
<rect x="73.74" y="422" width="5.4" height="99" fill="#72aae6"/>
<rect x="73.74" y="421.7" width="5.4" height="0.6" fill="#fff" fill-opacity="0.85"/>
<text x="77.84" y="522.6" font-size="4" text-anchor="end" fill="#333" transform="rotate(-90 77.84 522.6)" stroke="#333" stroke-width="0.25">Blumeviridae</text>
<rect x="80.25" y="333.5" width="5.4" height="1.5" fill="#f26d45"/>
<rect x="80.25" y="335" width="5.4" height="4.5" fill="#e6cf4e"/>
<rect x="80.25" y="334.7" width="5.4" height="0.6" fill="#fff" fill-opacity="0.85"/>
<rect x="80.25" y="339.5" width="5.4" height="96" fill="#f6a252"/>
<rect x="80.25" y="339.2" width="5.4" height="0.6" fill="#fff" fill-opacity="0.85"/>
<rect x="80.25" y="435.5" width="5.4" height="66" fill="#6c9fa5"/>
<rect x="80.25" y="435.2" width="5.4" height="0.6" fill="#fff" fill-opacity="0.85"/>
<rect x="80.25" y="501.5" width="5.4" height="19.5" fill="#72aae6"/>
<rect x="80.25" y="501.2" width="5.4" height="0.6" fill="#fff" fill-opacity="0.85"/>
<text x="84.35" y="522.6" font-size="4" text-anchor="end" fill="#333" transform="rotate(-90 84.35 522.6)" stroke="#333" stroke-width="0.25">Botourmiaviridae</text>
<rect x="86.76" y="333.5" width="5.4" height="2" fill="#a9bfdd"/>
<rect x="86.76" y="335.5" width="5.4" height="1.5" fill="#e6cf4e"/>
<rect x="86.76" y="335.2" width="5.4" height="0.6" fill="#fff" fill-opacity="0.85"/>
<rect x="86.76" y="337" width="5.4" height="38.5" fill="#f6a252"/>
<rect x="86.76" y="336.7" width="5.4" height="0.6" fill="#fff" fill-opacity="0.85"/>
<rect x="86.76" y="375.5" width="5.4" height="8" fill="#6c9fa5"/>
<rect x="86.76" y="375.2" width="5.4" height="0.6" fill="#fff" fill-opacity="0.85"/>
<rect x="86.76" y="383.5" width="5.4" height="137.5" fill="#72aae6"/>
<rect x="86.76" y="383.2" width="5.4" height="0.6" fill="#fff" fill-opacity="0.85"/>
<text x="90.86" y="522.6" font-size="4" text-anchor="end" fill="#333" transform="rotate(-90 90.86 522.6)" stroke="#333" stroke-width="0.25">Caliciviridae</text>
<rect x="93.27" y="333.5" width="5.4" height="2" fill="#a9bfdd"/>
<rect x="93.27" y="335.5" width="5.4" height="1" fill="#e6cf4e"/>
<rect x="93.27" y="335.2" width="5.4" height="0.6" fill="#fff" fill-opacity="0.85"/>
<rect x="93.27" y="336.5" width="5.4" height="2.5" fill="#3aa86a"/>
<rect x="93.27" y="336.2" width="5.4" height="0.6" fill="#fff" fill-opacity="0.85"/>
<rect x="93.27" y="339" width="5.4" height="2" fill="#e6cf4e"/>
<rect x="93.27" y="338.7" width="5.4" height="0.6" fill="#fff" fill-opacity="0.85"/>
<rect x="93.27" y="341" width="5.4" height="35.5" fill="#f6a252"/>
<rect x="93.27" y="340.7" width="5.4" height="0.6" fill="#fff" fill-opacity="0.85"/>
<rect x="93.27" y="376.5" width="5.4" height="29" fill="#6c9fa5"/>
<rect x="93.27" y="376.2" width="5.4" height="0.6" fill="#fff" fill-opacity="0.85"/>
<rect x="93.27" y="405.5" width="5.4" height="115.5" fill="#72aae6"/>
<rect x="93.27" y="405.2" width="5.4" height="0.6" fill="#fff" fill-opacity="0.85"/>
<text x="97.37" y="522.6" font-size="4" text-anchor="end" fill="#333" transform="rotate(-90 97.37 522.6)" stroke="#333" stroke-width="0.25">Carmotetraviridae</text>
<rect x="99.78" y="333.5" width="5.4" height="3.5" fill="#f26d45"/>
<rect x="99.78" y="337" width="5.4" height="2" fill="#a9bfdd"/>
<rect x="99.78" y="336.7" width="5.4" height="0.6" fill="#fff" fill-opacity="0.85"/>
<rect x="99.78" y="339" width="5.4" height="20.5" fill="#3cd3c5"/>
<rect x="99.78" y="338.7" width="5.4" height="0.6" fill="#fff" fill-opacity="0.85"/>
<rect x="99.78" y="359.5" width="5.4" height="6" fill="#d65bd6"/>
<rect x="99.78" y="359.2" width="5.4" height="0.6" fill="#fff" fill-opacity="0.85"/>
<rect x="99.78" y="365.5" width="5.4" height="21.5" fill="#f6a252"/>
<rect x="99.78" y="365.2" width="5.4" height="0.6" fill="#fff" fill-opacity="0.85"/>
<rect x="99.78" y="387" width="5.4" height="15" fill="#6c9fa5"/>
<rect x="99.78" y="386.7" width="5.4" height="0.6" fill="#fff" fill-opacity="0.85"/>
<rect x="99.78" y="402" width="5.4" height="119" fill="#72aae6"/>
<rect x="99.78" y="401.7" width="5.4" height="0.6" fill="#fff" fill-opacity="0.85"/>
<text x="103.88" y="522.6" font-size="4" text-anchor="end" fill="#333" transform="rotate(-90 103.88 522.6)" stroke="#333" stroke-width="0.25">Closviridae</text>
<rect x="106.29" y="333.5" width="5.4" height="3" fill="#e6cf4e"/>
<rect x="106.29" y="336.5" width="5.4" height="5.5" fill="#3aa86a"/>
<rect x="106.29" y="336.2" width="5.4" height="0.6" fill="#fff" fill-opacity="0.85"/>
<rect x="106.29" y="342" width="5.4" height="45" fill="#e6cf4e"/>
<rect x="106.29" y="341.7" width="5.4" height="0.6" fill="#fff" fill-opacity="0.85"/>
<rect x="106.29" y="387" width="5.4" height="2.5" fill="#3cd3c5"/>
<rect x="106.29" y="386.7" width="5.4" height="0.6" fill="#fff" fill-opacity="0.85"/>
<rect x="106.29" y="389.5" width="5.4" height="12.5" fill="#d65bd6"/>
<rect x="106.29" y="389.2" width="5.4" height="0.6" fill="#fff" fill-opacity="0.85"/>
<rect x="106.29" y="402" width="5.4" height="70" fill="#f6a252"/>
<rect x="106.29" y="401.7" width="5.4" height="0.6" fill="#fff" fill-opacity="0.85"/>
<rect x="106.29" y="472" width="5.4" height="11" fill="#6c9fa5"/>
<rect x="106.29" y="471.7" width="5.4" height="0.6" fill="#fff" fill-opacity="0.85"/>
<rect x="106.29" y="483" width="5.4" height="38" fill="#72aae6"/>
<rect x="106.29" y="482.7" width="5.4" height="0.6" fill="#fff" fill-opacity="0.85"/>
<text x="110.39" y="522.6" font-size="4" text-anchor="end" fill="#333" transform="rotate(-90 110.39 522.6)" stroke="#333" stroke-width="0.25">Cystoviridae</text>
<rect x="112.8" y="334" width="5.4" height="1.5" fill="#e6cf4e"/>
<rect x="112.8" y="335.5" width="5.4" height="3" fill="#f6a252"/>
<rect x="112.8" y="335.2" width="5.4" height="0.6" fill="#fff" fill-opacity="0.85"/>
<rect x="112.8" y="338.5" width="5.4" height="3.5" fill="#3cd3c5"/>
<rect x="112.8" y="338.2" width="5.4" height="0.6" fill="#fff" fill-opacity="0.85"/>
<rect x="112.8" y="342" width="5.4" height="4.5" fill="#d65bd6"/>
<rect x="112.8" y="341.7" width="5.4" height="0.6" fill="#fff" fill-opacity="0.85"/>
<rect x="112.8" y="346.5" width="5.4" height="111.5" fill="#f6a252"/>
<rect x="112.8" y="346.2" width="5.4" height="0.6" fill="#fff" fill-opacity="0.85"/>
<rect x="112.8" y="458" width="5.4" height="33" fill="#6c9fa5"/>
<rect x="112.8" y="457.7" width="5.4" height="0.6" fill="#fff" fill-opacity="0.85"/>
<rect x="112.8" y="491" width="5.4" height="30" fill="#72aae6"/>
<rect x="112.8" y="490.7" width="5.4" height="0.6" fill="#fff" fill-opacity="0.85"/>
<text x="116.9" y="522.6" font-size="4" text-anchor="end" fill="#333" transform="rotate(-90 116.9 522.6)" stroke="#333" stroke-width="0.25">Deltaflexiviridae</text>
<rect x="119.31" y="333.5" width="5.4" height="1.5" fill="#a9bfdd"/>
<rect x="119.31" y="335" width="5.4" height="2.5" fill="#3aa86a"/>
<rect x="119.31" y="334.7" width="5.4" height="0.6" fill="#fff" fill-opacity="0.85"/>
<rect x="119.31" y="337.5" width="5.4" height="33" fill="#3cd3c5"/>
<rect x="119.31" y="337.2" width="5.4" height="0.6" fill="#fff" fill-opacity="0.85"/>
<rect x="119.31" y="370.5" width="5.4" height="4" fill="#d65bd6"/>
<rect x="119.31" y="370.2" width="5.4" height="0.6" fill="#fff" fill-opacity="0.85"/>
<rect x="119.31" y="374.5" width="5.4" height="10" fill="#f6a252"/>
<rect x="119.31" y="374.2" width="5.4" height="0.6" fill="#fff" fill-opacity="0.85"/>
<rect x="119.31" y="384.5" width="5.4" height="4.5" fill="#6c9fa5"/>
<rect x="119.31" y="384.2" width="5.4" height="0.6" fill="#fff" fill-opacity="0.85"/>
<rect x="119.31" y="389" width="5.4" height="132" fill="#72aae6"/>
<rect x="119.31" y="388.7" width="5.4" height="0.6" fill="#fff" fill-opacity="0.85"/>
<text x="123.41" y="522.6" font-size="4" text-anchor="end" fill="#333" transform="rotate(-90 123.41 522.6)" stroke="#333" stroke-width="0.25">Dicistroviridae</text>
<rect x="125.82" y="334" width="5.4" height="46.5" fill="#3aa86a"/>
<rect x="125.82" y="380.5" width="5.4" height="5" fill="#e6cf4e"/>
<rect x="125.82" y="380.2" width="5.4" height="0.6" fill="#fff" fill-opacity="0.85"/>
<rect x="125.82" y="385.5" width="5.4" height="18.5" fill="#d65bd6"/>
<rect x="125.82" y="385.2" width="5.4" height="0.6" fill="#fff" fill-opacity="0.85"/>
<rect x="125.82" y="404" width="5.4" height="46.5" fill="#f6a252"/>
<rect x="125.82" y="403.7" width="5.4" height="0.6" fill="#fff" fill-opacity="0.85"/>
<rect x="125.82" y="450.5" width="5.4" height="30.5" fill="#6c9fa5"/>
<rect x="125.82" y="450.2" width="5.4" height="0.6" fill="#fff" fill-opacity="0.85"/>
<rect x="125.82" y="481" width="5.4" height="40" fill="#72aae6"/>
<rect x="125.82" y="480.7" width="5.4" height="0.6" fill="#fff" fill-opacity="0.85"/>
<text x="129.92" y="522.6" font-size="4" text-anchor="end" fill="#333" transform="rotate(-90 129.92 522.6)" stroke="#333" stroke-width="0.25">Duinviridae</text>
<rect x="132.33" y="333.5" width="5.4" height="3.5" fill="#a9bfdd"/>
<rect x="132.33" y="337" width="5.4" height="8.5" fill="#3aa86a"/>
<rect x="132.33" y="336.7" width="5.4" height="0.6" fill="#fff" fill-opacity="0.85"/>
<rect x="132.33" y="345.5" width="5.4" height="5.5" fill="#e6cf4e"/>
<rect x="132.33" y="345.2" width="5.4" height="0.6" fill="#fff" fill-opacity="0.85"/>
<rect x="132.33" y="351" width="5.4" height="4.5" fill="#3cd3c5"/>
<rect x="132.33" y="350.7" width="5.4" height="0.6" fill="#fff" fill-opacity="0.85"/>
<rect x="132.33" y="355.5" width="5.4" height="43" fill="#d65bd6"/>
<rect x="132.33" y="355.2" width="5.4" height="0.6" fill="#fff" fill-opacity="0.85"/>
<rect x="132.33" y="398.5" width="5.4" height="16" fill="#f6a252"/>
<rect x="132.33" y="398.2" width="5.4" height="0.6" fill="#fff" fill-opacity="0.85"/>
<rect x="132.33" y="414.5" width="5.4" height="88.5" fill="#6c9fa5"/>
<rect x="132.33" y="414.2" width="5.4" height="0.6" fill="#fff" fill-opacity="0.85"/>
<rect x="132.33" y="503" width="5.4" height="18" fill="#72aae6"/>
<rect x="132.33" y="502.7" width="5.4" height="0.6" fill="#fff" fill-opacity="0.85"/>
<text x="136.43" y="522.6" font-size="4" text-anchor="end" fill="#333" transform="rotate(-90 136.43 522.6)" stroke="#333" stroke-width="0.25">Fiersviridae</text>
<rect x="138.84" y="334.5" width="5.4" height="2.5" fill="#3aa86a"/>
<rect x="138.84" y="337" width="5.4" height="6.5" fill="#e6cf4e"/>
<rect x="138.84" y="336.7" width="5.4" height="0.6" fill="#fff" fill-opacity="0.85"/>
<rect x="138.84" y="343.5" width="5.4" height="35" fill="#3cd3c5"/>
<rect x="138.84" y="343.2" width="5.4" height="0.6" fill="#fff" fill-opacity="0.85"/>
<rect x="138.84" y="378.5" width="5.4" height="10" fill="#f6a252"/>
<rect x="138.84" y="378.2" width="5.4" height="0.6" fill="#fff" fill-opacity="0.85"/>
<rect x="138.84" y="388.5" width="5.4" height="8.5" fill="#6c9fa5"/>
<rect x="138.84" y="388.2" width="5.4" height="0.6" fill="#fff" fill-opacity="0.85"/>
<rect x="138.84" y="397" width="5.4" height="124" fill="#72aae6"/>
<rect x="138.84" y="396.7" width="5.4" height="0.6" fill="#fff" fill-opacity="0.85"/>
<text x="142.94" y="522.6" font-size="4" text-anchor="end" fill="#333" transform="rotate(-90 142.94 522.6)" stroke="#333" stroke-width="0.25">Hepeviridae</text>
<rect x="145.35" y="333.5" width="5.4" height="2.5" fill="#f26d45"/>
<rect x="145.35" y="336" width="5.4" height="3" fill="#e6cf4e"/>
<rect x="145.35" y="335.7" width="5.4" height="0.6" fill="#fff" fill-opacity="0.85"/>
<rect x="145.35" y="339" width="5.4" height="4" fill="#3cd3c5"/>
<rect x="145.35" y="338.7" width="5.4" height="0.6" fill="#fff" fill-opacity="0.85"/>
<rect x="145.35" y="343" width="5.4" height="5.5" fill="#d65bd6"/>
<rect x="145.35" y="342.7" width="5.4" height="0.6" fill="#fff" fill-opacity="0.85"/>
<rect x="145.35" y="348.5" width="5.4" height="92.5" fill="#f6a252"/>
<rect x="145.35" y="348.2" width="5.4" height="0.6" fill="#fff" fill-opacity="0.85"/>
<rect x="145.35" y="441" width="5.4" height="56" fill="#6c9fa5"/>
<rect x="145.35" y="440.7" width="5.4" height="0.6" fill="#fff" fill-opacity="0.85"/>
<rect x="145.35" y="497" width="5.4" height="24" fill="#72aae6"/>
<rect x="145.35" y="496.7" width="5.4" height="0.6" fill="#fff" fill-opacity="0.85"/>
<text x="149.45" y="522.6" font-size="4" text-anchor="end" fill="#333" transform="rotate(-90 149.45 522.6)" stroke="#333" stroke-width="0.25">Hypoviridae</text>
<rect x="151.86" y="334" width="5.4" height="1.5" fill="#3aa86a"/>
<rect x="151.86" y="335.5" width="5.4" height="3.5" fill="#3cd3c5"/>
<rect x="151.86" y="335.2" width="5.4" height="0.6" fill="#fff" fill-opacity="0.85"/>
<rect x="151.86" y="339" width="5.4" height="3.5" fill="#f6a252"/>
<rect x="151.86" y="338.7" width="5.4" height="0.6" fill="#fff" fill-opacity="0.85"/>
<rect x="151.86" y="342.5" width="5.4" height="178.5" fill="#72aae6"/>
<rect x="151.86" y="342.2" width="5.4" height="0.6" fill="#fff" fill-opacity="0.85"/>
<text x="155.96" y="522.6" font-size="4" text-anchor="end" fill="#333" transform="rotate(-90 155.96 522.6)" stroke="#333" stroke-width="0.25">Iflaviridae</text>
<rect x="158.37" y="333.5" width="5.4" height="2.5" fill="#a9bfdd"/>
<rect x="158.37" y="336" width="5.4" height="12.5" fill="#3cd3c5"/>
<rect x="158.37" y="335.7" width="5.4" height="0.6" fill="#fff" fill-opacity="0.85"/>
<rect x="158.37" y="348.5" width="5.4" height="7.5" fill="#f6a252"/>
<rect x="158.37" y="348.2" width="5.4" height="0.6" fill="#fff" fill-opacity="0.85"/>
<rect x="158.37" y="356" width="5.4" height="1.5" fill="#6c9fa5"/>
<rect x="158.37" y="355.7" width="5.4" height="0.6" fill="#fff" fill-opacity="0.85"/>
<rect x="158.37" y="357.5" width="5.4" height="163.5" fill="#72aae6"/>
<rect x="158.37" y="357.2" width="5.4" height="0.6" fill="#fff" fill-opacity="0.85"/>
<text x="162.47" y="522.6" font-size="4" text-anchor="end" fill="#333" transform="rotate(-90 162.47 522.6)" stroke="#333" stroke-width="0.25">Lispiviridae</text>
<rect x="164.88" y="333.5" width="5.4" height="2" fill="#a9bfdd"/>
<rect x="164.88" y="335.5" width="5.4" height="4" fill="#3cd3c5"/>
<rect x="164.88" y="335.2" width="5.4" height="0.6" fill="#fff" fill-opacity="0.85"/>
<rect x="164.88" y="339.5" width="5.4" height="7" fill="#f6a252"/>
<rect x="164.88" y="339.2" width="5.4" height="0.6" fill="#fff" fill-opacity="0.85"/>
<rect x="164.88" y="346.5" width="5.4" height="4.5" fill="#6c9fa5"/>
<rect x="164.88" y="346.2" width="5.4" height="0.6" fill="#fff" fill-opacity="0.85"/>
<rect x="164.88" y="351" width="5.4" height="170" fill="#72aae6"/>
<rect x="164.88" y="350.7" width="5.4" height="0.6" fill="#fff" fill-opacity="0.85"/>
<text x="168.98" y="522.6" font-size="4" text-anchor="end" fill="#333" transform="rotate(-90 168.98 522.6)" stroke="#333" stroke-width="0.25">Luteoviridae</text>
<rect x="171.39" y="333.5" width="5.4" height="7.5" fill="#a9bfdd"/>
<rect x="171.39" y="341" width="5.4" height="6" fill="#3aa86a"/>
<rect x="171.39" y="340.7" width="5.4" height="0.6" fill="#fff" fill-opacity="0.85"/>
<rect x="171.39" y="347" width="5.4" height="16" fill="#e6cf4e"/>
<rect x="171.39" y="346.7" width="5.4" height="0.6" fill="#fff" fill-opacity="0.85"/>
<rect x="171.39" y="363" width="5.4" height="4" fill="#d65bd6"/>
<rect x="171.39" y="362.7" width="5.4" height="0.6" fill="#fff" fill-opacity="0.85"/>
<rect x="171.39" y="367" width="5.4" height="16.5" fill="#f6a252"/>
<rect x="171.39" y="366.7" width="5.4" height="0.6" fill="#fff" fill-opacity="0.85"/>
<rect x="171.39" y="383.5" width="5.4" height="19" fill="#6c9fa5"/>
<rect x="171.39" y="383.2" width="5.4" height="0.6" fill="#fff" fill-opacity="0.85"/>
<rect x="171.39" y="402.5" width="5.4" height="118.5" fill="#72aae6"/>
<rect x="171.39" y="402.2" width="5.4" height="0.6" fill="#fff" fill-opacity="0.85"/>
<text x="175.49" y="522.6" font-size="4" text-anchor="end" fill="#333" transform="rotate(-90 175.49 522.6)" stroke="#333" stroke-width="0.25">Marnaviridae</text>
<rect x="177.9" y="333.5" width="5.4" height="2" fill="#a9bfdd"/>
<rect x="177.9" y="335.5" width="5.4" height="3" fill="#3aa86a"/>
<rect x="177.9" y="335.2" width="5.4" height="0.6" fill="#fff" fill-opacity="0.85"/>
<rect x="177.9" y="338.5" width="5.4" height="1.5" fill="#e6cf4e"/>
<rect x="177.9" y="338.2" width="5.4" height="0.6" fill="#fff" fill-opacity="0.85"/>
<rect x="177.9" y="340" width="5.4" height="7.5" fill="#f6a252"/>
<rect x="177.9" y="339.7" width="5.4" height="0.6" fill="#fff" fill-opacity="0.85"/>
<rect x="177.9" y="347.5" width="5.4" height="157.5" fill="#6c9fa5"/>
<rect x="177.9" y="347.2" width="5.4" height="0.6" fill="#fff" fill-opacity="0.85"/>
<rect x="177.9" y="505" width="5.4" height="16" fill="#72aae6"/>
<rect x="177.9" y="504.7" width="5.4" height="0.6" fill="#fff" fill-opacity="0.85"/>
<text x="182" y="522.6" font-size="4" text-anchor="end" fill="#333" transform="rotate(-90 182 522.6)" stroke="#333" stroke-width="0.25">Mymonaviridae</text>
<rect x="184.41" y="333.5" width="5.4" height="2" fill="#a9bfdd"/>
<rect x="184.41" y="335.5" width="5.4" height="4" fill="#3aa86a"/>
<rect x="184.41" y="335.2" width="5.4" height="0.6" fill="#fff" fill-opacity="0.85"/>
<rect x="184.41" y="339.5" width="5.4" height="4" fill="#e6cf4e"/>
<rect x="184.41" y="339.2" width="5.4" height="0.6" fill="#fff" fill-opacity="0.85"/>
<rect x="184.41" y="343.5" width="5.4" height="149" fill="#d65bd6"/>
<rect x="184.41" y="343.2" width="5.4" height="0.6" fill="#fff" fill-opacity="0.85"/>
<rect x="184.41" y="492.5" width="5.4" height="2.5" fill="#f6a252"/>
<rect x="184.41" y="492.2" width="5.4" height="0.6" fill="#fff" fill-opacity="0.85"/>
<rect x="184.41" y="495" width="5.4" height="2" fill="#6c9fa5"/>
<rect x="184.41" y="494.7" width="5.4" height="0.6" fill="#fff" fill-opacity="0.85"/>
<rect x="184.41" y="497" width="5.4" height="24" fill="#72aae6"/>
<rect x="184.41" y="496.7" width="5.4" height="0.6" fill="#fff" fill-opacity="0.85"/>
<text x="188.51" y="522.6" font-size="4" text-anchor="end" fill="#333" transform="rotate(-90 188.51 522.6)" stroke="#333" stroke-width="0.25">Narnaviridae</text>
<rect x="190.92" y="335" width="5.4" height="8" fill="#e6cf4e"/>
<rect x="190.92" y="343" width="5.4" height="11.5" fill="#3cd3c5"/>
<rect x="190.92" y="342.7" width="5.4" height="0.6" fill="#fff" fill-opacity="0.85"/>
<rect x="190.92" y="354.5" width="5.4" height="6" fill="#f6a252"/>
<rect x="190.92" y="354.2" width="5.4" height="0.6" fill="#fff" fill-opacity="0.85"/>
<rect x="190.92" y="360.5" width="5.4" height="5" fill="#6c9fa5"/>
<rect x="190.92" y="360.2" width="5.4" height="0.6" fill="#fff" fill-opacity="0.85"/>
<rect x="190.92" y="365.5" width="5.4" height="155.5" fill="#72aae6"/>
<rect x="190.92" y="365.2" width="5.4" height="0.6" fill="#fff" fill-opacity="0.85"/>
<text x="195.02" y="522.6" font-size="4" text-anchor="end" fill="#333" transform="rotate(-90 195.02 522.6)" stroke="#333" stroke-width="0.25">Nodaviridae</text>
<rect x="197.43" y="333.5" width="5.4" height="4" fill="#a9bfdd"/>
<rect x="197.43" y="337.5" width="5.4" height="3.5" fill="#f26d45"/>
<rect x="197.43" y="337.2" width="5.4" height="0.6" fill="#fff" fill-opacity="0.85"/>
<rect x="197.43" y="341" width="5.4" height="9.5" fill="#3aa86a"/>
<rect x="197.43" y="340.7" width="5.4" height="0.6" fill="#fff" fill-opacity="0.85"/>
<rect x="197.43" y="350.5" width="5.4" height="9" fill="#e6cf4e"/>
<rect x="197.43" y="350.2" width="5.4" height="0.6" fill="#fff" fill-opacity="0.85"/>
<rect x="197.43" y="359.5" width="5.4" height="8.5" fill="#3cd3c5"/>
<rect x="197.43" y="359.2" width="5.4" height="0.6" fill="#fff" fill-opacity="0.85"/>
<rect x="197.43" y="368" width="5.4" height="11.5" fill="#d65bd6"/>
<rect x="197.43" y="367.7" width="5.4" height="0.6" fill="#fff" fill-opacity="0.85"/>
<rect x="197.43" y="379.5" width="5.4" height="15" fill="#f6a252"/>
<rect x="197.43" y="379.2" width="5.4" height="0.6" fill="#fff" fill-opacity="0.85"/>
<rect x="197.43" y="394.5" width="5.4" height="33.5" fill="#6c9fa5"/>
<rect x="197.43" y="394.2" width="5.4" height="0.6" fill="#fff" fill-opacity="0.85"/>
<rect x="197.43" y="428" width="5.4" height="93" fill="#72aae6"/>
<rect x="197.43" y="427.7" width="5.4" height="0.6" fill="#fff" fill-opacity="0.85"/>
<text x="201.53" y="522.6" font-size="4" text-anchor="end" fill="#333" transform="rotate(-90 201.53 522.6)" stroke="#333" stroke-width="0.25">Partitiviridae</text>
<rect x="203.94" y="333.5" width="5.4" height="3.5" fill="#e6cf4e"/>
<rect x="203.94" y="337" width="5.4" height="4" fill="#f6a252"/>
<rect x="203.94" y="336.7" width="5.4" height="0.6" fill="#fff" fill-opacity="0.85"/>
<rect x="203.94" y="341" width="5.4" height="180" fill="#72aae6"/>
<rect x="203.94" y="340.7" width="5.4" height="0.6" fill="#fff" fill-opacity="0.85"/>
<text x="208.04" y="522.6" font-size="4" text-anchor="end" fill="#333" transform="rotate(-90 208.04 522.6)" stroke="#333" stroke-width="0.25">Permutotetraviridae</text>
<rect x="210.45" y="334" width="5.4" height="1" fill="#f26d45"/>
<rect x="210.45" y="335" width="5.4" height="3.5" fill="#e6cf4e"/>
<rect x="210.45" y="334.7" width="5.4" height="0.6" fill="#fff" fill-opacity="0.85"/>
<rect x="210.45" y="338.5" width="5.4" height="2" fill="#3cd3c5"/>
<rect x="210.45" y="338.2" width="5.4" height="0.6" fill="#fff" fill-opacity="0.85"/>
<rect x="210.45" y="340.5" width="5.4" height="61.5" fill="#f6a252"/>
<rect x="210.45" y="340.2" width="5.4" height="0.6" fill="#fff" fill-opacity="0.85"/>
<rect x="210.45" y="402" width="5.4" height="78.5" fill="#6c9fa5"/>
<rect x="210.45" y="401.7" width="5.4" height="0.6" fill="#fff" fill-opacity="0.85"/>
<rect x="210.45" y="480.5" width="5.4" height="40.5" fill="#72aae6"/>
<rect x="210.45" y="480.2" width="5.4" height="0.6" fill="#fff" fill-opacity="0.85"/>
<text x="214.55" y="522.6" font-size="4" text-anchor="end" fill="#333" transform="rotate(-90 214.55 522.6)" stroke="#333" stroke-width="0.25">Phenuiviridae</text>
<rect x="216.96" y="333.5" width="5.4" height="1" fill="#a9bfdd"/>
<rect x="216.96" y="334.5" width="5.4" height="13" fill="#e6cf4e"/>
<rect x="216.96" y="334.2" width="5.4" height="0.6" fill="#fff" fill-opacity="0.85"/>
<rect x="216.96" y="347.5" width="5.4" height="3" fill="#d65bd6"/>
<rect x="216.96" y="347.2" width="5.4" height="0.6" fill="#fff" fill-opacity="0.85"/>
<rect x="216.96" y="350.5" width="5.4" height="35" fill="#f6a252"/>
<rect x="216.96" y="350.2" width="5.4" height="0.6" fill="#fff" fill-opacity="0.85"/>
<rect x="216.96" y="385.5" width="5.4" height="10" fill="#6c9fa5"/>
<rect x="216.96" y="385.2" width="5.4" height="0.6" fill="#fff" fill-opacity="0.85"/>
<rect x="216.96" y="395.5" width="5.4" height="125.5" fill="#72aae6"/>
<rect x="216.96" y="395.2" width="5.4" height="0.6" fill="#fff" fill-opacity="0.85"/>
<text x="221.06" y="522.6" font-size="4" text-anchor="end" fill="#333" transform="rotate(-90 221.06 522.6)" stroke="#333" stroke-width="0.25">Picobirnaviridae</text>
<rect x="223.47" y="333.5" width="5.4" height="4" fill="#a9bfdd"/>
<rect x="223.47" y="337.5" width="5.4" height="3" fill="#f26d45"/>
<rect x="223.47" y="337.2" width="5.4" height="0.6" fill="#fff" fill-opacity="0.85"/>
<rect x="223.47" y="340.5" width="5.4" height="3" fill="#3aa86a"/>
<rect x="223.47" y="340.2" width="5.4" height="0.6" fill="#fff" fill-opacity="0.85"/>
<rect x="223.47" y="343.5" width="5.4" height="3.5" fill="#e6cf4e"/>
<rect x="223.47" y="343.2" width="5.4" height="0.6" fill="#fff" fill-opacity="0.85"/>
<rect x="223.47" y="347" width="5.4" height="4.5" fill="#3cd3c5"/>
<rect x="223.47" y="346.7" width="5.4" height="0.6" fill="#fff" fill-opacity="0.85"/>
<rect x="223.47" y="351.5" width="5.4" height="6.5" fill="#d65bd6"/>
<rect x="223.47" y="351.2" width="5.4" height="0.6" fill="#fff" fill-opacity="0.85"/>
<rect x="223.47" y="358" width="5.4" height="10" fill="#f6a252"/>
<rect x="223.47" y="357.7" width="5.4" height="0.6" fill="#fff" fill-opacity="0.85"/>
<rect x="223.47" y="368" width="5.4" height="28.5" fill="#6c9fa5"/>
<rect x="223.47" y="367.7" width="5.4" height="0.6" fill="#fff" fill-opacity="0.85"/>
<rect x="223.47" y="396.5" width="5.4" height="124.5" fill="#72aae6"/>
<rect x="223.47" y="396.2" width="5.4" height="0.6" fill="#fff" fill-opacity="0.85"/>
<text x="227.57" y="522.6" font-size="4" text-anchor="end" fill="#333" transform="rotate(-90 227.57 522.6)" stroke="#333" stroke-width="0.25">Picornaviridae</text>
<rect x="229.98" y="333.5" width="5.4" height="1.5" fill="#a9bfdd"/>
<rect x="229.98" y="335" width="5.4" height="2" fill="#e6cf4e"/>
<rect x="229.98" y="334.7" width="5.4" height="0.6" fill="#fff" fill-opacity="0.85"/>
<rect x="229.98" y="337" width="5.4" height="184" fill="#72aae6"/>
<rect x="229.98" y="336.7" width="5.4" height="0.6" fill="#fff" fill-opacity="0.85"/>
<text x="234.08" y="522.6" font-size="4" text-anchor="end" fill="#333" transform="rotate(-90 234.08 522.6)" stroke="#333" stroke-width="0.25">Polycipiviridae</text>
<rect x="236.49" y="334.5" width="5.4" height="13.5" fill="#e6cf4e"/>
<rect x="236.49" y="348" width="5.4" height="2.5" fill="#d65bd6"/>
<rect x="236.49" y="347.7" width="5.4" height="0.6" fill="#fff" fill-opacity="0.85"/>
<rect x="236.49" y="350.5" width="5.4" height="10" fill="#f6a252"/>
<rect x="236.49" y="350.2" width="5.4" height="0.6" fill="#fff" fill-opacity="0.85"/>
<rect x="236.49" y="360.5" width="5.4" height="14" fill="#6c9fa5"/>
<rect x="236.49" y="360.2" width="5.4" height="0.6" fill="#fff" fill-opacity="0.85"/>
<rect x="236.49" y="374.5" width="5.4" height="146.5" fill="#72aae6"/>
<rect x="236.49" y="374.2" width="5.4" height="0.6" fill="#fff" fill-opacity="0.85"/>
<text x="240.59" y="522.6" font-size="4" text-anchor="end" fill="#333" transform="rotate(-90 240.59 522.6)" stroke="#333" stroke-width="0.25">Secoviridae</text>
<rect x="243" y="334" width="5.4" height="2.5" fill="#3cd3c5"/>
<rect x="243" y="336.5" width="5.4" height="2" fill="#d65bd6"/>
<rect x="243" y="336.2" width="5.4" height="0.6" fill="#fff" fill-opacity="0.85"/>
<rect x="243" y="338.5" width="5.4" height="2.5" fill="#f6a252"/>
<rect x="243" y="338.2" width="5.4" height="0.6" fill="#fff" fill-opacity="0.85"/>
<rect x="243" y="341" width="5.4" height="5.5" fill="#6c9fa5"/>
<rect x="243" y="340.7" width="5.4" height="0.6" fill="#fff" fill-opacity="0.85"/>
<rect x="243" y="346.5" width="5.4" height="174.5" fill="#72aae6"/>
<rect x="243" y="346.2" width="5.4" height="0.6" fill="#fff" fill-opacity="0.85"/>
<text x="247.1" y="522.6" font-size="4" text-anchor="end" fill="#333" transform="rotate(-90 247.1 522.6)" stroke="#333" stroke-width="0.25">Solemoviridae</text>
<rect x="249.51" y="333.5" width="5.4" height="2" fill="#e6cf4e"/>
<rect x="249.51" y="335.5" width="5.4" height="185.5" fill="#72aae6"/>
<rect x="249.51" y="335.2" width="5.4" height="0.6" fill="#fff" fill-opacity="0.85"/>
<text x="253.61" y="522.6" font-size="4" text-anchor="end" fill="#333" transform="rotate(-90 253.61 522.6)" stroke="#333" stroke-width="0.25">Solinviviridae</text>
<rect x="256.02" y="333.5" width="5.4" height="2" fill="#f26d45"/>
<rect x="256.02" y="335.5" width="5.4" height="19" fill="#3aa86a"/>
<rect x="256.02" y="335.2" width="5.4" height="0.6" fill="#fff" fill-opacity="0.85"/>
<rect x="256.02" y="354.5" width="5.4" height="9" fill="#e6cf4e"/>
<rect x="256.02" y="354.2" width="5.4" height="0.6" fill="#fff" fill-opacity="0.85"/>
<rect x="256.02" y="363.5" width="5.4" height="15" fill="#f6a252"/>
<rect x="256.02" y="363.2" width="5.4" height="0.6" fill="#fff" fill-opacity="0.85"/>
<rect x="256.02" y="378.5" width="5.4" height="133" fill="#6c9fa5"/>
<rect x="256.02" y="378.2" width="5.4" height="0.6" fill="#fff" fill-opacity="0.85"/>
<rect x="256.02" y="511.5" width="5.4" height="9.5" fill="#72aae6"/>
<rect x="256.02" y="511.2" width="5.4" height="0.6" fill="#fff" fill-opacity="0.85"/>
<text x="260.12" y="522.6" font-size="4" text-anchor="end" fill="#333" transform="rotate(-90 260.12 522.6)" stroke="#333" stroke-width="0.25">Solspiviridae</text>
<rect x="262.53" y="333.5" width="5.4" height="2" fill="#f26d45"/>
<rect x="262.53" y="335.5" width="5.4" height="8" fill="#3aa86a"/>
<rect x="262.53" y="335.2" width="5.4" height="0.6" fill="#fff" fill-opacity="0.85"/>
<rect x="262.53" y="343.5" width="5.4" height="7" fill="#e6cf4e"/>
<rect x="262.53" y="343.2" width="5.4" height="0.6" fill="#fff" fill-opacity="0.85"/>
<rect x="262.53" y="350.5" width="5.4" height="42.5" fill="#d65bd6"/>
<rect x="262.53" y="350.2" width="5.4" height="0.6" fill="#fff" fill-opacity="0.85"/>
<rect x="262.53" y="393" width="5.4" height="57.5" fill="#f6a252"/>
<rect x="262.53" y="392.7" width="5.4" height="0.6" fill="#fff" fill-opacity="0.85"/>
<rect x="262.53" y="450.5" width="5.4" height="44" fill="#6c9fa5"/>
<rect x="262.53" y="450.2" width="5.4" height="0.6" fill="#fff" fill-opacity="0.85"/>
<rect x="262.53" y="494.5" width="5.4" height="26.5" fill="#72aae6"/>
<rect x="262.53" y="494.2" width="5.4" height="0.6" fill="#fff" fill-opacity="0.85"/>
<text x="266.63" y="522.6" font-size="4" text-anchor="end" fill="#333" transform="rotate(-90 266.63 522.6)" stroke="#333" stroke-width="0.25">Steitzviridae</text>
<rect x="269.04" y="334.5" width="5.4" height="59.5" fill="#e6cf4e"/>
<rect x="269.04" y="394" width="5.4" height="4" fill="#3cd3c5"/>
<rect x="269.04" y="393.7" width="5.4" height="0.6" fill="#fff" fill-opacity="0.85"/>
<rect x="269.04" y="398" width="5.4" height="9" fill="#f6a252"/>
<rect x="269.04" y="397.7" width="5.4" height="0.6" fill="#fff" fill-opacity="0.85"/>
<rect x="269.04" y="407" width="5.4" height="85" fill="#6c9fa5"/>
<rect x="269.04" y="406.7" width="5.4" height="0.6" fill="#fff" fill-opacity="0.85"/>
<rect x="269.04" y="492" width="5.4" height="29" fill="#72aae6"/>
<rect x="269.04" y="491.7" width="5.4" height="0.6" fill="#fff" fill-opacity="0.85"/>
<text x="273.14" y="522.6" font-size="4" text-anchor="end" fill="#333" transform="rotate(-90 273.14 522.6)" stroke="#333" stroke-width="0.25">Tobaniviridae</text>
<rect x="275.55" y="333.5" width="5.4" height="3.5" fill="#a9bfdd"/>
<rect x="275.55" y="337" width="5.4" height="3.5" fill="#f26d45"/>
<rect x="275.55" y="336.7" width="5.4" height="0.6" fill="#fff" fill-opacity="0.85"/>
<rect x="275.55" y="340.5" width="5.4" height="7.5" fill="#3aa86a"/>
<rect x="275.55" y="340.2" width="5.4" height="0.6" fill="#fff" fill-opacity="0.85"/>
<rect x="275.55" y="348" width="5.4" height="8.5" fill="#e6cf4e"/>
<rect x="275.55" y="347.7" width="5.4" height="0.6" fill="#fff" fill-opacity="0.85"/>
<rect x="275.55" y="356.5" width="5.4" height="7.5" fill="#3cd3c5"/>
<rect x="275.55" y="356.2" width="5.4" height="0.6" fill="#fff" fill-opacity="0.85"/>
<rect x="275.55" y="364" width="5.4" height="10.5" fill="#d65bd6"/>
<rect x="275.55" y="363.7" width="5.4" height="0.6" fill="#fff" fill-opacity="0.85"/>
<rect x="275.55" y="374.5" width="5.4" height="16" fill="#f6a252"/>
<rect x="275.55" y="374.2" width="5.4" height="0.6" fill="#fff" fill-opacity="0.85"/>
<rect x="275.55" y="390.5" width="5.4" height="34" fill="#6c9fa5"/>
<rect x="275.55" y="390.2" width="5.4" height="0.6" fill="#fff" fill-opacity="0.85"/>
<rect x="275.55" y="424.5" width="5.4" height="96.5" fill="#72aae6"/>
<rect x="275.55" y="424.2" width="5.4" height="0.6" fill="#fff" fill-opacity="0.85"/>
<text x="279.65" y="522.6" font-size="4" text-anchor="end" fill="#333" transform="rotate(-90 279.65 522.6)" stroke="#333" stroke-width="0.25">Tombusviridae</text>
<rect x="282.06" y="333.5" width="5.4" height="3" fill="#a9bfdd"/>
<rect x="282.06" y="336.5" width="5.4" height="6" fill="#3aa86a"/>
<rect x="282.06" y="336.2" width="5.4" height="0.6" fill="#fff" fill-opacity="0.85"/>
<rect x="282.06" y="342.5" width="5.4" height="4.5" fill="#e6cf4e"/>
<rect x="282.06" y="342.2" width="5.4" height="0.6" fill="#fff" fill-opacity="0.85"/>
<rect x="282.06" y="347" width="5.4" height="8.5" fill="#3cd3c5"/>
<rect x="282.06" y="346.7" width="5.4" height="0.6" fill="#fff" fill-opacity="0.85"/>
<rect x="282.06" y="355.5" width="5.4" height="15" fill="#d65bd6"/>
<rect x="282.06" y="355.2" width="5.4" height="0.6" fill="#fff" fill-opacity="0.85"/>
<rect x="282.06" y="370.5" width="5.4" height="14" fill="#f6a252"/>
<rect x="282.06" y="370.2" width="5.4" height="0.6" fill="#fff" fill-opacity="0.85"/>
<rect x="282.06" y="384.5" width="5.4" height="37" fill="#6c9fa5"/>
<rect x="282.06" y="384.2" width="5.4" height="0.6" fill="#fff" fill-opacity="0.85"/>
<rect x="282.06" y="421.5" width="5.4" height="99.5" fill="#72aae6"/>
<rect x="282.06" y="421.2" width="5.4" height="0.6" fill="#fff" fill-opacity="0.85"/>
<text x="286.16" y="522.6" font-size="4" text-anchor="end" fill="#333" transform="rotate(-90 286.16 522.6)" stroke="#333" stroke-width="0.25">Totiviridae</text>
<rect x="288.57" y="334" width="5.4" height="142.5" fill="#3cd3c5"/>
<rect x="288.57" y="476.5" width="5.4" height="5" fill="#f6a252"/>
<rect x="288.57" y="476.2" width="5.4" height="0.6" fill="#fff" fill-opacity="0.85"/>
<rect x="288.57" y="481.5" width="5.4" height="39.5" fill="#72aae6"/>
<rect x="288.57" y="481.2" width="5.4" height="0.6" fill="#fff" fill-opacity="0.85"/>
<text x="292.67" y="522.6" font-size="4" text-anchor="end" fill="#333" transform="rotate(-90 292.67 522.6)" stroke="#333" stroke-width="0.25">Tymoviridae</text>
<rect x="295.08" y="333.5" width="5.4" height="2" fill="#f26d45"/>
<rect x="295.08" y="335.5" width="5.4" height="24" fill="#3cd3c5"/>
<rect x="295.08" y="335.2" width="5.4" height="0.6" fill="#fff" fill-opacity="0.85"/>
<rect x="295.08" y="359.5" width="5.4" height="11" fill="#f6a252"/>
<rect x="295.08" y="359.2" width="5.4" height="0.6" fill="#fff" fill-opacity="0.85"/>
<rect x="295.08" y="370.5" width="5.4" height="4" fill="#6c9fa5"/>
<rect x="295.08" y="370.2" width="5.4" height="0.6" fill="#fff" fill-opacity="0.85"/>
<rect x="295.08" y="374.5" width="5.4" height="146.5" fill="#72aae6"/>
<rect x="295.08" y="374.2" width="5.4" height="0.6" fill="#fff" fill-opacity="0.85"/>
<text x="299.18" y="522.6" font-size="4" text-anchor="end" fill="#333" transform="rotate(-90 299.18 522.6)" stroke="#333" stroke-width="0.25">unclassified Bunyavirales family</text>
<rect x="301.59" y="333.5" width="5.4" height="2" fill="#f26d45"/>
<rect x="301.59" y="335.5" width="5.4" height="2.5" fill="#e6cf4e"/>
<rect x="301.59" y="335.2" width="5.4" height="0.6" fill="#fff" fill-opacity="0.85"/>
<rect x="301.59" y="338" width="5.4" height="5.5" fill="#f6a252"/>
<rect x="301.59" y="337.7" width="5.4" height="0.6" fill="#fff" fill-opacity="0.85"/>
<rect x="301.59" y="343.5" width="5.4" height="162.5" fill="#6c9fa5"/>
<rect x="301.59" y="343.2" width="5.4" height="0.6" fill="#fff" fill-opacity="0.85"/>
<rect x="301.59" y="506" width="5.4" height="15" fill="#72aae6"/>
<rect x="301.59" y="505.7" width="5.4" height="0.6" fill="#fff" fill-opacity="0.85"/>
<text x="305.69" y="522.6" font-size="4" text-anchor="end" fill="#333" transform="rotate(-90 305.69 522.6)" stroke="#333" stroke-width="0.25">unclassified Martellivirales family</text>
<rect x="308.1" y="333.5" width="5.4" height="2" fill="#f26d45"/>
<rect x="308.1" y="335.5" width="5.4" height="3" fill="#e6cf4e"/>
<rect x="308.1" y="335.2" width="5.4" height="0.6" fill="#fff" fill-opacity="0.85"/>
<rect x="308.1" y="338.5" width="5.4" height="6.5" fill="#3cd3c5"/>
<rect x="308.1" y="338.2" width="5.4" height="0.6" fill="#fff" fill-opacity="0.85"/>
<rect x="308.1" y="345" width="5.4" height="6.5" fill="#f6a252"/>
<rect x="308.1" y="344.7" width="5.4" height="0.6" fill="#fff" fill-opacity="0.85"/>
<rect x="308.1" y="351.5" width="5.4" height="21.5" fill="#6c9fa5"/>
<rect x="308.1" y="351.2" width="5.4" height="0.6" fill="#fff" fill-opacity="0.85"/>
<rect x="308.1" y="373" width="5.4" height="148" fill="#72aae6"/>
<rect x="308.1" y="372.7" width="5.4" height="0.6" fill="#fff" fill-opacity="0.85"/>
<text x="312.2" y="522.6" font-size="4" text-anchor="end" fill="#333" transform="rotate(-90 312.2 522.6)" stroke="#333" stroke-width="0.25">unclassified Picornavirales family</text>
<rect x="314.61" y="333.5" width="5.4" height="1.5" fill="#a9bfdd"/>
<rect x="314.61" y="335" width="5.4" height="5.5" fill="#e6cf4e"/>
<rect x="314.61" y="334.7" width="5.4" height="0.6" fill="#fff" fill-opacity="0.85"/>
<rect x="314.61" y="340.5" width="5.4" height="5" fill="#d65bd6"/>
<rect x="314.61" y="340.2" width="5.4" height="0.6" fill="#fff" fill-opacity="0.85"/>
<rect x="314.61" y="345.5" width="5.4" height="100.5" fill="#f6a252"/>
<rect x="314.61" y="345.2" width="5.4" height="0.6" fill="#fff" fill-opacity="0.85"/>
<rect x="314.61" y="446" width="5.4" height="2.5" fill="#6c9fa5"/>
<rect x="314.61" y="445.7" width="5.4" height="0.6" fill="#fff" fill-opacity="0.85"/>
<rect x="314.61" y="448.5" width="5.4" height="72.5" fill="#72aae6"/>
<rect x="314.61" y="448.2" width="5.4" height="0.6" fill="#fff" fill-opacity="0.85"/>
<text x="318.71" y="522.6" font-size="4" text-anchor="end" fill="#333" transform="rotate(-90 318.71 522.6)" stroke="#333" stroke-width="0.25">unclassified Tymovirales family</text>
<rect x="321.12" y="333.5" width="5.4" height="4" fill="#a9bfdd"/>
<rect x="321.12" y="337.5" width="5.4" height="6" fill="#f26d45"/>
<rect x="321.12" y="337.2" width="5.4" height="0.6" fill="#fff" fill-opacity="0.85"/>
<rect x="321.12" y="343.5" width="5.4" height="7.5" fill="#3aa86a"/>
<rect x="321.12" y="343.2" width="5.4" height="0.6" fill="#fff" fill-opacity="0.85"/>
<rect x="321.12" y="351" width="5.4" height="10" fill="#e6cf4e"/>
<rect x="321.12" y="350.7" width="5.4" height="0.6" fill="#fff" fill-opacity="0.85"/>
<rect x="321.12" y="361" width="5.4" height="6.5" fill="#3cd3c5"/>
<rect x="321.12" y="360.7" width="5.4" height="0.6" fill="#fff" fill-opacity="0.85"/>
<rect x="321.12" y="367.5" width="5.4" height="8" fill="#d65bd6"/>
<rect x="321.12" y="367.2" width="5.4" height="0.6" fill="#fff" fill-opacity="0.85"/>
<rect x="321.12" y="375.5" width="5.4" height="17" fill="#f6a252"/>
<rect x="321.12" y="375.2" width="5.4" height="0.6" fill="#fff" fill-opacity="0.85"/>
<rect x="321.12" y="392.5" width="5.4" height="29.5" fill="#6c9fa5"/>
<rect x="321.12" y="392.2" width="5.4" height="0.6" fill="#fff" fill-opacity="0.85"/>
<rect x="321.12" y="422" width="5.4" height="99" fill="#72aae6"/>
<rect x="321.12" y="421.7" width="5.4" height="0.6" fill="#fff" fill-opacity="0.85"/>
<text x="325.22" y="522.6" font-size="4" text-anchor="end" fill="#333" transform="rotate(-90 325.22 522.6)" stroke="#333" stroke-width="0.25">unclassified Viruses family</text>
<rect x="327.63" y="334.5" width="5.4" height="5" fill="#e6cf4e"/>
<rect x="327.63" y="339.5" width="5.4" height="11" fill="#3cd3c5"/>
<rect x="327.63" y="339.2" width="5.4" height="0.6" fill="#fff" fill-opacity="0.85"/>
<rect x="327.63" y="350.5" width="5.4" height="3" fill="#d65bd6"/>
<rect x="327.63" y="350.2" width="5.4" height="0.6" fill="#fff" fill-opacity="0.85"/>
<rect x="327.63" y="353.5" width="5.4" height="34.5" fill="#f6a252"/>
<rect x="327.63" y="353.2" width="5.4" height="0.6" fill="#fff" fill-opacity="0.85"/>
<rect x="327.63" y="388" width="5.4" height="82" fill="#6c9fa5"/>
<rect x="327.63" y="387.7" width="5.4" height="0.6" fill="#fff" fill-opacity="0.85"/>
<rect x="327.63" y="470" width="5.4" height="51" fill="#72aae6"/>
<rect x="327.63" y="469.7" width="5.4" height="0.6" fill="#fff" fill-opacity="0.85"/>
<text x="331.73" y="522.6" font-size="4" text-anchor="end" fill="#333" transform="rotate(-90 331.73 522.6)" stroke="#333" stroke-width="0.25">Virgaviridae</text>
<line x1="46.6" y1="332" x2="46.6" y2="521.5" stroke="#999" stroke-width="0.6"/>
<line x1="45" y1="521" x2="46.6" y2="521" stroke="#999" stroke-width="0.5"/>
<text x="44.6" y="522.2" font-size="3.8" text-anchor="end" fill="#444" stroke="#444" stroke-width="0.1">0.00</text>
<line x1="45" y1="474" x2="46.6" y2="474" stroke="#999" stroke-width="0.5"/>
<text x="44.6" y="475.2" font-size="3.8" text-anchor="end" fill="#444" stroke="#444" stroke-width="0.1">0.25</text>
<line x1="45" y1="427" x2="46.6" y2="427" stroke="#999" stroke-width="0.5"/>
<text x="44.6" y="428.2" font-size="3.8" text-anchor="end" fill="#444" stroke="#444" stroke-width="0.1">0.50</text>
<line x1="45" y1="380" x2="46.6" y2="380" stroke="#999" stroke-width="0.5"/>
<text x="44.6" y="381.2" font-size="3.8" text-anchor="end" fill="#444" stroke="#444" stroke-width="0.1">0.75</text>
<line x1="45" y1="333" x2="46.6" y2="333" stroke="#999" stroke-width="0.5"/>
<text x="44.6" y="334.2" font-size="3.8" text-anchor="end" fill="#444" stroke="#444" stroke-width="0.1">1.00</text>
<text x="34.2" y="429" font-size="6.4" text-anchor="middle" fill="#222" transform="rotate(-90 34.2 429)" stroke="#222" stroke-width="0.1">Abundance</text>
<text x="0" y="329.6" font-size="15" text-anchor="start" fill="#000">C</text>
<text x="337" y="380.2" font-size="7.9" text-anchor="start" fill="#222" stroke="#222" stroke-width="0.1">Host taxonomy</text>
<rect x="337.2" y="388.5" width="10.8" height="9.2" fill="#a9bfdd"/>
<text x="350.4" y="396.2" font-size="6.9" text-anchor="start" fill="#222" stroke="#222" stroke-width="0.1">others</text>
<rect x="337.2" y="398.26" width="10.8" height="9.2" fill="#f26d45"/>
<text x="350.4" y="405.96" font-size="6.9" text-anchor="start" fill="#222" stroke="#222" stroke-width="0.1">Accipitriformes</text>
<rect x="337.2" y="408.02" width="10.8" height="9.2" fill="#3aa86a"/>
<text x="350.4" y="415.72" font-size="6.9" text-anchor="start" fill="#222" stroke="#222" stroke-width="0.1">Ciconiformes</text>
<rect x="337.2" y="417.78" width="10.8" height="9.2" fill="#e6cf4e"/>
<text x="350.4" y="425.48" font-size="6.9" text-anchor="start" fill="#222" stroke="#222" stroke-width="0.1">Gruiformes</text>
<rect x="337.2" y="427.54" width="10.8" height="9.2" fill="#3cd3c5"/>
<text x="350.4" y="435.24" font-size="6.9" text-anchor="start" fill="#222" stroke="#222" stroke-width="0.1">Piciformes</text>
<rect x="337.2" y="437.3" width="10.8" height="9.2" fill="#d65bd6"/>
<text x="350.4" y="445" font-size="6.9" text-anchor="start" fill="#222" stroke="#222" stroke-width="0.1">Psittaciformes</text>
<rect x="337.2" y="447.06" width="10.8" height="9.2" fill="#f6a252"/>
<text x="350.4" y="454.76" font-size="6.9" text-anchor="start" fill="#222" stroke="#222" stroke-width="0.1">Galliformes</text>
<rect x="337.2" y="456.82" width="10.8" height="9.2" fill="#6c9fa5"/>
<text x="350.4" y="464.52" font-size="6.9" text-anchor="start" fill="#222" stroke="#222" stroke-width="0.1">Anseriformes</text>
<rect x="337.2" y="466.58" width="10.8" height="9.2" fill="#72aae6"/>
<text x="350.4" y="474.28" font-size="6.9" text-anchor="start" fill="#222" stroke="#222" stroke-width="0.1">Passeriformes</text>
<text x="431" y="329.7" font-size="14.8" text-anchor="start" fill="#000">D</text>
<line x1="442.5" y1="349.5" x2="442.5" y2="503.6" stroke="#333" stroke-width="0.7"/>
<line x1="442.2" y1="503.3" x2="750.8" y2="503.3" stroke="#333" stroke-width="0.7"/>
<line x1="438.6" y1="503.3" x2="442.5" y2="503.3" stroke="#333" stroke-width="0.6"/>
<text x="435.3" y="506" font-size="7.5" text-anchor="end" fill="#222" stroke="#222" stroke-width="0.08">0</text>
<line x1="438.6" y1="491.47" x2="442.5" y2="491.47" stroke="#333" stroke-width="0.6"/>
<text x="435.3" y="494.17" font-size="7.5" text-anchor="end" fill="#222" stroke="#222" stroke-width="0.08">20</text>
<line x1="438.6" y1="479.64" x2="442.5" y2="479.64" stroke="#333" stroke-width="0.6"/>
<text x="435.3" y="482.34" font-size="7.5" text-anchor="end" fill="#222" stroke="#222" stroke-width="0.08">40</text>
<line x1="438.6" y1="467.81" x2="442.5" y2="467.81" stroke="#333" stroke-width="0.6"/>
<text x="435.3" y="470.51" font-size="7.5" text-anchor="end" fill="#222" stroke="#222" stroke-width="0.08">60</text>
<line x1="438.6" y1="455.98" x2="442.5" y2="455.98" stroke="#333" stroke-width="0.6"/>
<text x="435.3" y="458.68" font-size="7.5" text-anchor="end" fill="#222" stroke="#222" stroke-width="0.08">80</text>
<line x1="438.6" y1="444.15" x2="442.5" y2="444.15" stroke="#333" stroke-width="0.6"/>
<text x="435.3" y="446.85" font-size="7.5" text-anchor="end" fill="#222" stroke="#222" stroke-width="0.08">100</text>
<line x1="438.6" y1="432.32" x2="442.5" y2="432.32" stroke="#333" stroke-width="0.6"/>
<text x="435.3" y="435.02" font-size="7.5" text-anchor="end" fill="#222" stroke="#222" stroke-width="0.08">120</text>
<line x1="438.6" y1="420.48" x2="442.5" y2="420.48" stroke="#333" stroke-width="0.6"/>
<text x="435.3" y="423.18" font-size="7.5" text-anchor="end" fill="#222" stroke="#222" stroke-width="0.08">140</text>
<line x1="438.6" y1="408.65" x2="442.5" y2="408.65" stroke="#333" stroke-width="0.6"/>
<text x="435.3" y="411.35" font-size="7.5" text-anchor="end" fill="#222" stroke="#222" stroke-width="0.08">160</text>
<line x1="438.6" y1="396.82" x2="442.5" y2="396.82" stroke="#333" stroke-width="0.6"/>
<text x="435.3" y="399.52" font-size="7.5" text-anchor="end" fill="#222" stroke="#222" stroke-width="0.08">180</text>
<line x1="438.6" y1="384.99" x2="442.5" y2="384.99" stroke="#333" stroke-width="0.6"/>
<text x="435.3" y="387.69" font-size="7.5" text-anchor="end" fill="#222" stroke="#222" stroke-width="0.08">200</text>
<line x1="438.6" y1="373.16" x2="442.5" y2="373.16" stroke="#333" stroke-width="0.6"/>
<text x="435.3" y="375.86" font-size="7.5" text-anchor="end" fill="#222" stroke="#222" stroke-width="0.08">220</text>
<line x1="438.6" y1="361.33" x2="442.5" y2="361.33" stroke="#333" stroke-width="0.6"/>
<text x="435.3" y="364.03" font-size="7.5" text-anchor="end" fill="#222" stroke="#222" stroke-width="0.08">240</text>
<line x1="438.6" y1="349.5" x2="442.5" y2="349.5" stroke="#333" stroke-width="0.6"/>
<text x="435.3" y="352.2" font-size="7.5" text-anchor="end" fill="#222" stroke="#222" stroke-width="0.08">260</text>
<line x1="442.5" y1="503.3" x2="442.5" y2="507.3" stroke="#333" stroke-width="0.6"/>
<text x="442.5" y="516.4" font-size="7.5" text-anchor="middle" fill="#222" stroke="#222" stroke-width="0.08">0</text>
<line x1="470.5" y1="503.3" x2="470.5" y2="507.3" stroke="#333" stroke-width="0.6"/>
<text x="470.5" y="516.4" font-size="7.5" text-anchor="middle" fill="#222" stroke="#222" stroke-width="0.08">10</text>
<line x1="498.5" y1="503.3" x2="498.5" y2="507.3" stroke="#333" stroke-width="0.6"/>
<text x="498.5" y="516.4" font-size="7.5" text-anchor="middle" fill="#222" stroke="#222" stroke-width="0.08">20</text>
<line x1="526.5" y1="503.3" x2="526.5" y2="507.3" stroke="#333" stroke-width="0.6"/>
<text x="526.5" y="516.4" font-size="7.5" text-anchor="middle" fill="#222" stroke="#222" stroke-width="0.08">30</text>
<line x1="554.5" y1="503.3" x2="554.5" y2="507.3" stroke="#333" stroke-width="0.6"/>
<text x="554.5" y="516.4" font-size="7.5" text-anchor="middle" fill="#222" stroke="#222" stroke-width="0.08">40</text>
<line x1="582.5" y1="503.3" x2="582.5" y2="507.3" stroke="#333" stroke-width="0.6"/>
<text x="582.5" y="516.4" font-size="7.5" text-anchor="middle" fill="#222" stroke="#222" stroke-width="0.08">50</text>
<line x1="610.5" y1="503.3" x2="610.5" y2="507.3" stroke="#333" stroke-width="0.6"/>
<text x="610.5" y="516.4" font-size="7.5" text-anchor="middle" fill="#222" stroke="#222" stroke-width="0.08">60</text>
<line x1="638.5" y1="503.3" x2="638.5" y2="507.3" stroke="#333" stroke-width="0.6"/>
<text x="638.5" y="516.4" font-size="7.5" text-anchor="middle" fill="#222" stroke="#222" stroke-width="0.08">70</text>
<line x1="666.5" y1="503.3" x2="666.5" y2="507.3" stroke="#333" stroke-width="0.6"/>
<text x="666.5" y="516.4" font-size="7.5" text-anchor="middle" fill="#222" stroke="#222" stroke-width="0.08">80</text>
<line x1="694.5" y1="503.3" x2="694.5" y2="507.3" stroke="#333" stroke-width="0.6"/>
<text x="694.5" y="516.4" font-size="7.5" text-anchor="middle" fill="#222" stroke="#222" stroke-width="0.08">90</text>
<line x1="722.5" y1="503.3" x2="722.5" y2="507.3" stroke="#333" stroke-width="0.6"/>
<text x="722.5" y="516.4" font-size="7.5" text-anchor="middle" fill="#222" stroke="#222" stroke-width="0.08">100</text>
<line x1="750.5" y1="503.3" x2="750.5" y2="507.3" stroke="#333" stroke-width="0.6"/>
<text x="750.5" y="516.4" font-size="7.5" text-anchor="middle" fill="#222" stroke="#222" stroke-width="0.08">110</text>
<text x="590.5" y="531.4" font-size="7.6" text-anchor="middle" fill="#222">Number of bird libraries</text>
<text x="414" y="419" font-size="6.9" text-anchor="middle" fill="#222" transform="rotate(-90 414 419)">Number of the detected viral genera</text>
<circle cx="445.3" cy="501.8" r="3.5" fill="#e2d04a" fill-opacity="0.85"/>
<circle cx="450.9" cy="501.8" r="3.5" fill="#2f9e52" fill-opacity="0.85"/>
<circle cx="450.6" cy="492.5" r="3.5" fill="#3ed2c8" fill-opacity="0.85"/>
<circle cx="461.5" cy="488.2" r="3.5" fill="#f2a45e" fill-opacity="0.85"/>
<circle cx="461.5" cy="491.8" r="3.5" fill="#6a9ab5" fill-opacity="0.85"/>
<circle cx="473.1" cy="496.5" r="3.5" fill="#d452d0" fill-opacity="0.85"/>
<circle cx="464.6" cy="480.5" r="3.5" fill="#62cfae" fill-opacity="0.85"/>
<circle cx="484.6" cy="478.9" r="3.5" fill="#6ea3dc" fill-opacity="0.85"/>
<circle cx="534.5" cy="481.7" r="3.5" fill="#e35a78" fill-opacity="0.85"/>
<circle cx="731" cy="359.4" r="3.5" fill="#7ccbe3" fill-opacity="0.85"/>
<text x="459.8" y="476" font-size="4.75" text-anchor="middle" fill="#222" stroke="#222" stroke-width="0.12">Gruiformes</text>
<text x="507.6" y="477" font-size="4.75" text-anchor="middle" fill="#222" stroke="#222" stroke-width="0.12">Galliformes</text>
<text x="543.2" y="493.3" font-size="4.72" text-anchor="middle" fill="#222" stroke="#222" stroke-width="0.12">Anseriformes</text>
<text x="729.8" y="385.5" font-size="4.72" text-anchor="middle" fill="#222" stroke="#222" stroke-width="0.12">Passeriformes</text>
<path d="M452.2 459.5 L453.4 458.6 Q454.0 457.0 455.4 456.9 Q456.9 456.9 457.6 457.7 Q460.2 458.2 462.4 459.5 Q465.4 461.2 467.6 463.2 L470.2 464.7 L467.4 465.0 Q465.0 465.4 463.0 466.2 L462.4 466.8 L462.5 468.3 L463.6 468.6 L462.0 468.9 L461.5 467.0 L460.7 467.0 L460.5 468.6 L458.8 469.0 L457.3 469.2 L458.8 468.3 L459.6 466.8 Q457.2 465.8 455.8 464.0 Q454.4 462.2 454.2 460.4 Z" fill="#000"/>
<path d="M496.9 460.2 L496.0 459.1 Q495.0 458.5 494.1 459.1 Q493.2 459.8 492.9 461.4 Q491.0 462.0 488.8 462.5 Q486.3 463.3 484.0 465.2 Q479.0 467.4 475.6 469.0 L472.7 470.5 L476.6 469.5 Q480.4 468.4 484.3 467.5 Q486.2 468.6 488.3 469.3 L488.4 471.2 L487.6 471.6 L490.8 471.6 L489.4 470.9 L489.5 469.2 Q491.8 468.2 493.0 466.5 Q494.6 464.2 495.0 461.8 L495.6 461.0 Z" fill="#000"/>
<path d="M541.6 479.4 Q544.0 477.6 546.4 476.8 Q549.8 475.6 552.6 474.2 Q553.9 473.4 554.3 472.2 Q555.0 470.6 556.8 470.6 Q558.6 470.8 559.2 472.6 Q559.6 474.2 560.4 476.3 L559.6 477.8 Q559.4 479.4 558.2 480.8 Q556.6 482.4 554.2 482.8 L553.8 484.4 L556.8 484.9 L551.4 485.0 L552.6 484.2 L552.6 482.8 Q549.2 482.2 546.4 481.0 Q543.6 480.2 541.6 479.4 Z" fill="#000"/>
<path d="M714.8 363.4 L716.6 362.9 Q718.0 362.4 719.6 362.9 Q721.2 363.5 723.0 364.6 Q726.6 366.4 730.4 368.0 Q734.6 369.4 739.3 370.1 L739.0 371.5 Q735.0 371.2 731.4 371.5 Q728.0 372.0 725.4 373.4 L724.3 374.4 L724.7 376.0 L725.8 376.6 L722.4 377.4 L723.1 376.4 L722.8 374.8 L721.6 374.8 L721.3 376.8 L720.4 376.0 L720.7 374.6 Q718.6 373.4 717.6 371.6 Q716.6 369.4 716.5 366.8 Q716.2 364.8 715.6 364.2 Z" fill="#000"/>
<rect x="585.5" y="346.5" width="71" height="87" fill="#fff" stroke="#666" stroke-width="0.5"/>
<text x="622.9" y="354" font-size="5.6" text-anchor="middle" fill="#222">Wilcoxon, p = 0.0019</text>
<text x="584" y="351.8" font-size="3.8" text-anchor="end" fill="#222" stroke="#222" stroke-width="0.08">2.5</text>
<line x1="584.2" y1="350.5" x2="585.5" y2="350.5" stroke="#666" stroke-width="0.4"/>
<text x="584" y="376.7" font-size="3.8" text-anchor="end" fill="#222" stroke="#222" stroke-width="0.08">2.0</text>
<line x1="584.2" y1="375.4" x2="585.5" y2="375.4" stroke="#666" stroke-width="0.4"/>
<text x="584" y="401.7" font-size="3.8" text-anchor="end" fill="#222" stroke="#222" stroke-width="0.08">1.5</text>
<line x1="584.2" y1="400.4" x2="585.5" y2="400.4" stroke="#666" stroke-width="0.4"/>
<text x="584" y="426.7" font-size="3.8" text-anchor="end" fill="#222" stroke="#222" stroke-width="0.08">1.0</text>
<line x1="584.2" y1="425.4" x2="585.5" y2="425.4" stroke="#666" stroke-width="0.4"/>
<line x1="605.1" y1="383.4" x2="605.1" y2="425" stroke="#f8766d" stroke-width="1.1"/>
<line x1="600" y1="383.4" x2="610" y2="383.4" stroke="#f8766d" stroke-width="1.1"/>
<line x1="600" y1="425" x2="610" y2="425" stroke="#f8766d" stroke-width="1.1"/>
<rect x="593.2" y="394" width="23.8" height="20.8" fill="#f8766d"/>
<line x1="636.5" y1="363.5" x2="636.5" y2="429.3" stroke="#00bfc4" stroke-width="1.1"/>
<line x1="630.6" y1="363.5" x2="642.5" y2="363.5" stroke="#00bfc4" stroke-width="1.1"/>
<line x1="630.6" y1="429.3" x2="642.5" y2="429.3" stroke="#00bfc4" stroke-width="1.1"/>
<rect x="625.5" y="387.3" width="23.8" height="18.2" fill="#00bfc4"/>
<text x="605.1" y="437.8" font-size="3.6" text-anchor="middle" fill="#222" stroke="#222" stroke-width="0.08">Housed</text>
<text x="637.4" y="437.8" font-size="3.6" text-anchor="middle" fill="#222" stroke="#222" stroke-width="0.08">Wild</text>
<rect x="660.3" y="384.2" width="3.8" height="3.6" fill="#f8766d"/>
<rect x="660.3" y="392.5" width="3.8" height="3.6" fill="#00bfc4"/>
<text x="665.2" y="387.5" font-size="3.6" text-anchor="start" fill="#222" stroke="#222" stroke-width="0.08">Housed</text>
<text x="665.2" y="395.8" font-size="3.6" text-anchor="start" fill="#222" stroke="#222" stroke-width="0.08">Wild</text>
</svg></body></html>
